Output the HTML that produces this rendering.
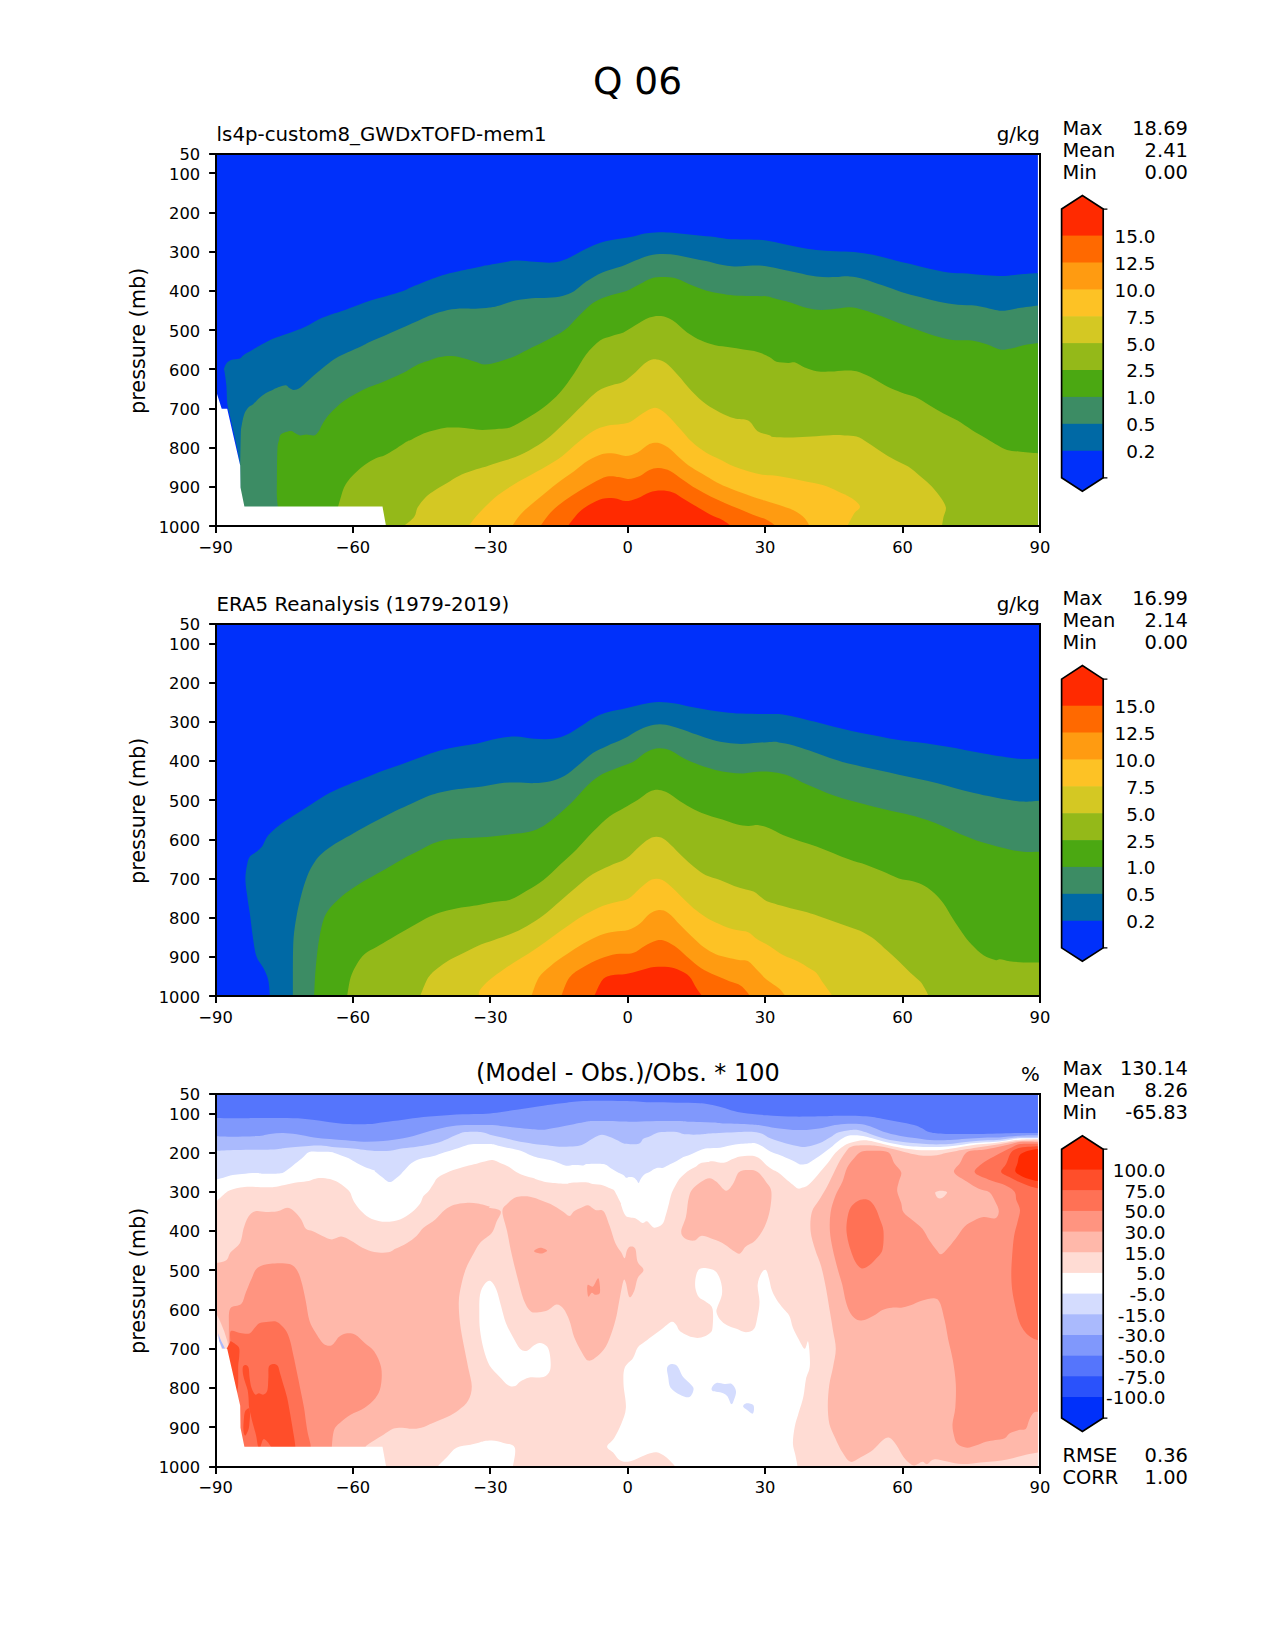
<!DOCTYPE html>
<html lang="en"><head><meta charset="utf-8"><title>Q 06</title>
<style>html,body{margin:0;padding:0;background:#fff}svg{display:block}</style></head>
<body>
<svg width="1275" height="1650" viewBox="0 0 1275 1650" font-family="'DejaVu Sans', 'Liberation Sans', sans-serif" fill="#000">
<rect width="1275" height="1650" fill="#fff"/>
<text x="637.5" y="94" font-size="37.5" text-anchor="middle">Q 06</text>
<clipPath id="c1"><rect x="215.6" y="153.8" width="822.3" height="372.6"/></clipPath>
<g clip-path="url(#c1)">
<rect x="215.6" y="153.8" width="824.3" height="372.6" fill="#0030fa"/>
<path d="M240.2 465.5C239.7 462.9 238.5 455.6 237.4 449.8C236.2 444 234.8 437 233.4 431C232.1 425 230.6 418.4 229.5 413.7C228.5 409 227.7 407.5 227.2 402.8C226.7 398 226.8 390.7 226.4 385.5C225.9 380.3 224.9 374.1 224.5 371.4C224.1 368.6 223.7 370.3 224 369C224.4 367.7 225.2 365 226.4 363.5C227.6 362 228.9 360.9 231.1 360.1C233.3 359.2 237.6 359.4 239.7 358.5C241.8 357.6 241.4 356.4 243.7 354.9C245.9 353.4 248.9 351.8 253.1 349.4C257.2 347.1 264.7 342.8 268.8 340.8C272.8 338.7 273.4 338.7 277.6 337.1C281.9 335.5 289.4 332.9 294.1 331.2C298.8 329.4 302 328.4 305.9 326.5C309.8 324.6 314.1 321.6 317.6 319.9C321.2 318.1 323.1 317.3 327.1 315.9C331 314.4 336.9 312.7 341.2 311.2C345.5 309.7 349 308.4 352.9 306.9C356.9 305.5 360.8 303.8 364.7 302.5C368.6 301.1 372.5 299.9 376.5 298.7C380.4 297.5 383.9 296.7 388.2 295.4C392.6 294.2 398.4 292.6 402.4 291.2C406.3 289.8 408.2 288.4 411.8 286.9C415.3 285.4 419.6 283.8 423.5 282.2C427.5 280.7 431 279.3 435.3 277.8C439.6 276.3 445.5 274.4 449.4 273.3C453.3 272.2 455.3 271.9 458.8 271.2C462.3 270.4 466.7 269.6 470.6 268.8C474.5 268 478.4 267 482.4 266.2C486.3 265.5 488.6 265.1 494.1 264.1C499.6 263.2 508.6 261 515.3 260.6C522 260.2 527.8 261.4 534.1 261.8C540.4 262.1 547.5 263 552.9 262.5C558.4 262 562.4 260.6 567.1 258.7C571.8 256.8 576.1 253.7 581.2 251.2C586.3 248.7 592.6 245.5 597.6 243.7C602.7 241.8 606.3 241.2 611.8 240.1C617.2 239 625.1 238.2 630.6 237.1C636.1 236 640 234.3 644.7 233.5C649.4 232.7 654.1 232.5 658.8 232.3C663.5 232.2 667.5 232.4 672.9 232.8C678.4 233.2 685.5 234.1 691.8 234.7C698 235.3 704.7 235.9 710.6 236.6C716.5 237.3 721.2 238.5 727.1 238.9C732.9 239.4 740 239.2 745.9 239.4C751.8 239.6 756.9 239.5 762.4 240.1C767.8 240.7 772.9 241.8 778.8 242.9C784.7 244.1 791.4 245.8 797.6 246.9C803.9 248.1 810.2 249.3 816.5 250C822.7 250.7 829 250.9 835.3 251.2C841.6 251.5 847.8 251.3 854.1 251.9C860.4 252.5 866.7 253.5 872.9 254.7C879.2 256 885.5 257.8 891.8 259.4C898 261 904.3 262.6 910.6 264.1C916.9 265.7 923.1 267.4 929.4 268.8C935.7 270.2 942 271.6 948.2 272.4C954.5 273.1 960.8 273.1 967.1 273.5C973.3 274 979.6 274.8 985.9 275.2C992.2 275.6 998.8 276 1004.7 275.9C1010.6 275.7 1015.4 274.8 1021.2 274.2C1027 273.7 1036.5 273.1 1039.5 272.8L1041.9 272.8L1041.9 528.4L240.2 528.4Z" fill="#0069a5"/>
<path d="M240.2 465.5C240.3 460.3 240.6 440.9 240.8 434.1C241.1 427.3 241.2 428.1 241.8 424.7C242.4 421.3 243.3 416.6 244.4 413.7C245.5 410.9 246.9 409 248.3 407.4C249.8 405.9 251.2 405.9 253.1 404.3C254.9 402.7 257.2 399.9 259.3 398C261.4 396.2 263.3 394.8 265.6 393.3C268 391.9 271.1 390.5 273.4 389.4C275.8 388.3 277.6 387.5 279.7 386.8C281.8 386 284.4 385 286 385.2C287.6 385.4 287.8 387.1 289.1 387.8C290.4 388.6 292 389.9 293.8 389.9C295.7 389.9 297.8 389.4 300.1 387.8C302.5 386.3 305.3 383.1 308 380.8C310.6 378.4 312.9 376.2 315.8 373.7C318.7 371.2 321.8 368.5 325.2 365.9C328.6 363.3 332.5 360.3 336.2 358C339.9 355.8 342.7 354.6 347.2 352.6C351.6 350.5 358.7 347.5 362.9 345.5C367 343.5 368 342.7 372.3 340.8C376.5 338.9 383.6 336 388.2 334C392.9 332 396.1 330.5 400 328.8C403.9 327.1 407.8 325.4 411.8 323.6C415.7 321.9 419.6 319.9 423.5 318.2C427.5 316.6 430.6 315 435.3 313.5C440 312 446.7 310.2 451.8 309.3C456.9 308.4 462 308.4 465.9 308.4C469.8 308.3 471.4 308.9 475.3 308.8C479.2 308.7 485.5 308.2 489.4 307.6C493.3 307.1 494.5 306.9 498.8 305.8C503.1 304.6 509.8 301.8 515.3 300.6C520.8 299.3 526.3 298.7 531.8 298.2C537.3 297.8 543.1 298.2 548.2 297.8C553.3 297.4 558 297 562.4 295.9C566.7 294.8 570.2 293.5 574.1 291.2C578 288.8 581.2 284.9 585.9 281.8C590.6 278.6 596.5 274.9 602.4 272.4C608.2 269.8 615.7 268.4 621.2 266.5C626.7 264.5 630.6 262.4 635.3 260.6C640 258.7 644.7 256.5 649.4 255.4C654.1 254.3 658.8 254 663.5 254C668.2 254 672.9 254.5 677.6 255.2C682.4 255.9 687.1 257.3 691.8 258.2C696.5 259.2 701.2 260 705.9 261.1C710.6 262.1 715.3 263.7 720 264.6C724.7 265.5 729.4 266.3 734.1 266.5C738.8 266.7 743.5 265.9 748.2 265.8C752.9 265.6 757.3 265.2 762.4 265.8C767.4 266.3 772.9 267.6 778.8 268.8C784.7 270 791.4 271.5 797.6 272.8C803.9 274.1 810.2 275.9 816.5 276.6C822.7 277.3 829.8 277.1 835.3 277.1C840.8 277 844.7 276 849.4 276.4C854.1 276.7 858 277.4 863.5 278.9C869 280.4 876.1 283.1 882.4 285.3C888.6 287.4 894.9 289.9 901.2 291.9C907.5 293.8 913.7 295.4 920 297.1C926.3 298.7 932.5 300.5 938.8 301.8C945.1 303.1 951.4 304.2 957.6 304.8C963.9 305.5 970.2 304.9 976.5 305.8C982.7 306.6 990.6 309.2 995.3 310C1000 310.8 1000.8 311 1004.7 310.7C1008.6 310.4 1013 309 1018.8 308.1C1024.6 307.2 1036.1 305.8 1039.5 305.3L1041.9 305.3L1041.9 528.4L240.2 528.4Z" fill="#3c8c64"/>
<path d="M277.8 506.6C277.7 505 277.1 501.1 276.9 496.9C276.7 492.6 276.8 489 276.9 481.2C277 473.3 277 456.6 277.4 449.8C277.7 443 278.3 443 278.9 440.4C279.6 437.8 279.3 435.7 281.3 434.1C283.3 432.6 288.4 431.1 290.7 431C293.1 430.8 293.8 432.6 295.4 433.3C297 434.1 298.3 435.2 300.1 435.4C301.9 435.6 304 434.6 306.4 434.6C308.7 434.6 312.1 436 314.2 435.4C316.3 434.8 317.6 432.8 318.9 431C320.2 429.2 320.5 427.3 322.1 424.7C323.6 422.1 325.7 418.4 328.4 415.3C331 412.2 334.6 408.6 337.8 405.9C340.9 403.1 344 400.9 347.2 398.8C350.3 396.7 352.9 395.3 356.6 393.3C360.2 391.4 365 388.9 369.1 387.1C373.3 385.2 377.5 384.1 381.7 382.4C385.9 380.7 390.2 378.7 394.2 376.9C398.3 375 401.9 373.5 406 371.4C410.1 369.2 414.7 366 418.8 364.1C422.9 362.2 427.1 361.1 430.6 359.9C434.1 358.7 436.5 357.7 440 357.1C443.5 356.4 447.8 355.9 451.8 356.1C455.7 356.3 459.6 357.3 463.5 358.2C467.5 359.2 471.8 360.7 475.3 361.8C478.8 362.8 480.8 364.6 484.7 364.6C488.6 364.6 493.7 363.2 498.8 361.8C503.9 360.3 509.8 358.2 515.3 355.9C520.8 353.5 526.3 350.4 531.8 347.6C537.3 344.9 542.7 342.4 548.2 339.4C553.7 336.5 559.6 333.9 564.7 330C569.8 326.1 574.1 320.4 578.8 315.9C583.5 311.4 588.2 306.2 592.9 302.9C597.6 299.7 601.6 298.3 607.1 296.4C612.5 294.4 620.4 293.2 625.9 291.2C631.4 289.1 635.7 286.3 640 284.1C644.3 282 647.4 279.4 651.8 278.2C656.1 277.1 661.6 276.9 665.9 277.1C670.2 277.2 673.3 277.6 677.6 278.9C682 280.3 687.1 283.4 691.8 285.3C696.5 287.2 701.2 289.1 705.9 290.5C710.6 291.8 715.3 292.7 720 293.5C724.7 294.4 729 295 734.1 295.4C739.2 295.8 745.1 295.7 750.6 295.9C756.1 296 763.1 296 767.1 296.4C771 296.7 770.2 297.2 774.1 298.2C778 299.3 785.1 300.8 790.6 302.5C796.1 304.1 802 306.9 807.1 308.1C812.2 309.4 816.5 309.9 821.2 310C825.9 310.1 830.6 309.3 835.3 308.8C840 308.4 844.7 307 849.4 307.2C854.1 307.4 858 308.4 863.5 310C869 311.6 876.1 314.2 882.4 316.6C888.6 318.9 894.9 321.8 901.2 324.1C907.5 326.5 913.7 328.6 920 330.7C926.3 332.9 933.3 335.5 938.8 337.1C944.3 338.6 947.5 339.5 952.9 340.1C958.4 340.7 966.3 339.9 971.8 340.6C977.2 341.3 981.2 342.6 985.9 344.1C990.6 345.6 996.1 348.7 1000 349.5C1003.9 350.3 1005.5 349.5 1009.4 348.8C1013.3 348.1 1018.5 346.3 1023.5 345.3C1028.5 344.3 1036.9 343.3 1039.5 342.9L1041.9 342.9L1041.9 528.4L277.8 528.4Z" fill="#4ba812"/>
<path d="M338.1 506.6C338.5 505 339.9 500.1 340.9 496.9C341.9 493.7 342.5 490.6 344 487.4C345.6 484.3 348 480.9 350.3 478C352.7 475.2 355.5 472.6 358.2 470.2C360.8 467.8 363.1 465.9 366 463.9C368.9 462 372.3 459.9 375.4 458.4C378.5 457 381.7 456.7 384.8 455.3C388 453.9 390.7 452 394.2 449.8C397.8 447.6 403.1 443.7 406 442C408.9 440.2 408.8 440.8 411.8 439.4C414.7 438 419.6 435.1 423.5 433.5C427.5 432 431.4 431 435.3 430C439.2 429 443.1 428 447.1 427.6C451 427.3 454.9 427.5 458.8 427.6C462.7 427.8 466.7 428.4 470.6 428.8C474.5 429.2 477.6 430 482.4 430C487.1 430 494.1 429.3 498.8 428.8C503.5 428.4 505.9 428.9 510.6 427.2C515.3 425.4 521.6 421.5 527.1 418.2C532.5 415 538 412 543.5 407.6C549 403.3 554.9 398 560 392.4C565.1 386.7 569.8 379.8 574.1 373.5C578.4 367.3 581.6 360.2 585.9 354.7C590.2 349.2 595.7 343.7 600 340.6C604.3 337.5 607.8 337.3 611.8 335.9C615.7 334.5 619.6 334.1 623.5 332.4C627.5 330.6 631 327.8 635.3 325.3C639.6 322.8 645.1 319.1 649.4 317.5C653.7 316 657.3 315.6 661.2 316.1C665.1 316.6 668.6 317.9 672.9 320.6C677.3 323.3 682.4 329 687.1 332.4C691.8 335.7 696.5 338.4 701.2 340.6C705.9 342.7 710.6 344.2 715.3 345.3C720 346.4 724.7 346.5 729.4 347.2C734.1 347.9 738.8 348.7 743.5 349.5C748.2 350.3 753.3 350.6 757.6 351.9C762 353.1 766.3 355.4 769.4 357.1C772.5 358.7 773.3 360.8 776.5 361.8C779.6 362.7 785.1 362.8 788.2 362.9C791.4 363.1 792.5 361.7 795.3 362.5C798 363.3 801.2 366.2 804.7 367.6C808.2 369.1 812.2 370.5 816.5 371.2C820.8 371.8 825.9 371.8 830.6 371.6C835.3 371.5 840.4 370.5 844.7 370.5C849 370.4 852.2 370.1 856.5 371.2C860.8 372.3 865.5 374.5 870.6 377.1C875.7 379.6 882 383.9 887.1 386.5C892.2 389 896.5 390.6 901.2 392.4C905.9 394.1 910.6 394.9 915.3 397.1C920 399.2 924.7 402.5 929.4 405.3C934.1 408 938.8 411 943.5 413.5C948.2 416.1 952.9 417.8 957.6 420.6C962.4 423.3 967.1 427.1 971.8 430C976.5 432.9 981.6 435.7 985.9 438.2C990.2 440.8 994.1 443.3 997.6 445.3C1001.2 447.2 1003.5 448.9 1007.1 450C1010.6 451.1 1013.4 451.1 1018.8 451.6C1024.2 452.2 1036.1 453.2 1039.5 453.5L1041.9 453.5L1041.9 528.4L338.1 528.4Z" fill="#94b919"/>
<path d="M403.5 526.4C405.3 524.8 411.8 520.2 414.1 517.1C416.5 513.9 415.7 511 417.6 507.6C419.6 504.3 422.9 500 425.9 497.1C428.8 494.1 431.8 492.4 435.3 490C438.8 487.6 443.1 485.3 447.1 482.9C451 480.6 454.9 477.8 458.8 475.9C462.7 473.9 466.7 472.6 470.6 471.2C474.5 469.8 478 469 482.4 467.6C486.7 466.3 491 464.7 496.5 462.9C502 461.2 509 459.6 515.3 457.1C521.6 454.5 528.2 451.2 534.1 447.6C540 444.1 545.1 440.4 550.6 435.9C556.1 431.4 562 425.5 567.1 420.6C572.2 415.7 576.1 411.4 581.2 406.5C586.3 401.6 592.6 394.7 597.6 391.2C602.7 387.6 607.4 386.9 611.8 385.3C616.1 383.7 619.6 383.9 623.5 381.8C627.5 379.6 631.4 375.7 635.3 372.4C639.2 369 643.5 363.9 647.1 361.8C650.6 359.6 653.3 359.2 656.5 359.4C659.6 359.6 662.4 360.4 665.9 362.9C669.4 365.5 673.3 370 677.6 374.7C682 379.4 687.1 386.3 691.8 391.2C696.5 396.1 701.2 400.6 705.9 404.1C710.6 407.6 715.3 410 720 412.4C724.7 414.7 729.4 416.9 734.1 418.2C738.8 419.6 744.3 418.4 748.2 420.6C752.2 422.7 754.1 428.7 757.6 431.2C761.2 433.6 766.7 434.2 769.4 435.2C772.2 436.2 770.2 436.7 774.1 437.1C778 437.5 786.7 437.6 792.9 437.5C799.2 437.5 805.5 437 811.8 436.6C818 436.2 825.1 435.4 830.6 435.2C836.1 435 840.4 435.2 844.7 435.4C849 435.6 852.5 435.3 856.5 436.6C860.4 437.8 863.9 440.3 868.2 442.9C872.6 445.6 878 449.6 882.4 452.4C886.7 455.1 889.8 457.1 894.1 459.4C898.4 461.8 903.9 463.7 908.2 466.5C912.6 469.2 916.1 472.5 920 475.9C923.9 479.2 928.2 482.7 931.8 486.5C935.3 490.2 938.8 494.7 941.2 498.2C943.5 501.8 945.5 504.5 945.9 507.6C946.3 510.8 944.2 513.9 943.5 517.1C942.9 520.2 942.2 524.8 941.9 526.4L941.9 528.4L403.5 528.4Z" fill="#d4c823"/>
<path d="M468.2 526.4C469.8 524.5 473.3 519.4 477.6 514.7C482 510 488.6 502.9 494.1 498.2C499.6 493.5 505.1 490 510.6 486.5C516.1 482.9 521.2 480.4 527.1 477.1C532.9 473.7 540 470 545.9 466.5C551.8 462.9 556.9 460 562.4 455.9C567.8 451.8 573.7 445.9 578.8 441.8C583.9 437.6 588.2 433.8 592.9 431.2C597.6 428.5 602.4 426.9 607.1 425.8C611.8 424.6 617.3 424.8 621.2 424.1C625.1 423.5 627.1 423.5 630.6 421.8C634.1 420 638.8 415.8 642.4 413.5C645.9 411.3 649 409.1 651.8 408.4C654.5 407.6 656.1 407.6 658.8 408.8C661.6 410.1 664.7 412.5 668.2 415.9C671.8 419.2 676.1 424.5 680 428.8C683.9 433.1 687.4 437.8 691.8 441.8C696.1 445.7 701.2 449.4 705.9 452.4C710.6 455.3 715.3 457.1 720 459.4C724.7 461.8 729.4 464.5 734.1 466.5C738.8 468.4 743.5 469.8 748.2 471.2C752.9 472.6 758 474 762.4 474.7C766.7 475.4 769.4 474.8 774.1 475.4C778.8 476 785.1 477.2 790.6 478.2C796.1 479.3 801.6 480.6 807.1 481.8C812.5 482.9 818.4 483.7 823.5 485.3C828.6 486.9 832.9 489 837.6 491.2C842.4 493.3 848 495.7 851.8 498.2C855.5 500.8 859.6 503.9 860 506.5C860.4 509 856.3 510.2 854.1 513.5C852 516.9 848.3 524.3 847.1 526.4L847.1 528.4L468.2 528.4Z" fill="#fdc225"/>
<path d="M511.8 526.4C513.6 524.1 517.8 517 522.4 512.4C526.9 507.7 532.9 503.1 538.8 498.2C544.7 493.3 551.8 487.4 557.6 482.9C563.5 478.4 569 474.9 574.1 471.2C579.2 467.5 583.5 463.5 588.2 460.6C592.9 457.7 598 455.2 602.4 454C606.7 452.8 610.2 453.2 614.1 453.5C618 453.8 622 456.1 625.9 455.9C629.8 455.7 633.7 454.3 637.6 452.4C641.6 450.4 645.9 445.7 649.4 444.1C652.9 442.6 655.7 442.4 658.8 442.9C662 443.5 664.7 445.1 668.2 447.6C671.8 450.2 676.1 454.9 680 458.2C683.9 461.6 687.4 464.7 691.8 467.6C696.1 470.6 701.2 473.1 705.9 475.9C710.6 478.6 715.3 481.8 720 484.1C724.7 486.5 729 488 734.1 490C739.2 492 745.5 494.1 750.6 495.9C755.7 497.6 759.2 498.8 764.7 500.6C770.2 502.4 778.4 504.7 783.5 506.5C788.6 508.2 791.8 509.2 795.3 511.2C798.8 513.1 802.3 515.7 804.7 518.2C807.1 520.8 809 525 809.9 526.4L809.9 528.4L511.8 528.4Z" fill="#ff9b11"/>
<path d="M540 526.4C541.8 524.1 546.5 516.7 550.6 512.4C554.7 508 560 504.1 564.7 500.6C569.4 497.1 574.1 494.1 578.8 491.2C583.5 488.2 588.2 485.4 592.9 482.9C597.6 480.5 602.7 477.6 607.1 476.6C611.4 475.6 615.3 476.7 618.8 477.1C622.4 477.5 624.7 479.1 628.2 478.9C631.8 478.7 636.5 477.4 640 475.9C643.5 474.4 646.3 471.3 649.4 470C652.5 468.7 655.3 467.9 658.8 468.1C662.4 468.3 666.7 469.3 670.6 471.2C674.5 473.1 678 476.5 682.4 479.4C686.7 482.4 691.8 486 696.5 488.8C701.2 491.6 705.9 494 710.6 496.4C715.3 498.7 720 500.9 724.7 502.9C729.4 505 734.1 506.9 738.8 508.8C743.5 510.8 748.2 512.9 752.9 514.7C757.6 516.6 763.1 517.9 767.1 519.9C771 521.8 774.9 525.3 776.5 526.4L776.5 528.4L540 528.4Z" fill="#ff6900"/>
<path d="M567.5 526.4C569.4 524.1 575 516.1 578.8 512.4C582.7 508.6 586.7 506.4 590.6 504.1C594.5 501.8 598.4 499.7 602.4 498.7C606.3 497.7 610.2 497.8 614.1 498.2C618 498.6 622 501.1 625.9 501.1C629.8 501.1 633.7 499.7 637.6 498.2C641.6 496.8 645.5 493.6 649.4 492.4C653.3 491.1 657.3 490.5 661.2 490.5C665.1 490.5 669 490.9 672.9 492.4C676.9 493.8 680.8 497.1 684.7 499.4C688.6 501.8 692.2 503.9 696.5 506.5C700.8 509 706.3 512.5 710.6 514.7C714.9 516.9 718.8 517.9 722.4 519.9C725.9 521.8 730.2 525.3 731.8 526.4L731.8 528.4L567.5 528.4Z" fill="#ff2a00"/>
<polygon points="215.6,389.4 221.7,408.7 227.2,408.7 240.2,465.5 240.5,487.5 244.4,506.6 382.5,506.6 386.1,526.4 215.6,526.4" fill="#fff"/>
</g>
<clipPath id="c2"><rect x="215.6" y="623.9" width="824.3" height="372.5"/></clipPath>
<g clip-path="url(#c2)">
<rect x="215.6" y="623.9" width="824.3" height="372.5" fill="#0030fa"/>
<path d="M269.9 996.4C269.6 993.7 269.3 984.7 268.2 980C267.2 975.3 265.5 972.2 263.5 968.2C261.6 964.3 258.2 961.6 256.5 956.5C254.7 951.4 254 944.7 252.9 937.6C251.8 930.6 250.9 921.2 249.9 914.1C248.9 907.1 247.8 901.2 247.1 895.3C246.3 889.4 245.4 883.9 245.4 878.8C245.4 873.7 246.3 868.4 247.1 864.7C247.8 861 248.3 858.6 249.9 856.5C251.4 854.3 254.4 853.5 256.5 851.8C258.5 850 260.4 848.6 262.4 845.9C264.3 843.1 265.3 838.8 268.2 835.3C271.2 831.8 275.7 828 280 824.7C284.3 821.4 289 818.6 294.1 815.3C299.2 812 304.7 808.4 310.6 804.7C316.5 801 323.1 796.3 329.4 792.9C335.7 789.6 342.4 787.2 348.2 784.7C354.1 782.2 358.8 780.5 364.7 778.1C370.6 775.8 377.3 772.9 383.5 770.6C389.8 768.2 396.1 766.3 402.4 764C408.6 761.7 414.9 759.2 421.2 756.9C427.5 754.7 433.7 752.3 440 750.6C446.3 748.9 452.5 747.8 458.8 746.6C465.1 745.4 471.4 744.8 477.6 743.5C483.9 742.2 490.2 740 496.5 738.8C502.7 737.6 509 736.5 515.3 736.5C521.6 736.5 527.8 738.4 534.1 738.8C540.4 739.2 547.5 739.5 552.9 738.8C558.4 738.1 562.4 736.7 567.1 734.6C571.8 732.4 576.5 728.8 581.2 725.9C585.9 722.9 590.6 719.3 595.3 716.9C600 714.6 604.3 713.2 609.4 711.8C614.5 710.3 620.4 709.5 625.9 708.2C631.4 707 636.9 705.3 642.4 704.2C647.8 703.2 653.3 702 658.8 701.9C664.3 701.8 669.8 702.7 675.3 703.5C680.8 704.4 686.3 706 691.8 707.1C697.3 708.1 702.7 709 708.2 709.9C713.7 710.7 719.2 711.6 724.7 712.2C730.2 712.9 734.9 713.3 741.2 713.6C747.5 714 756.1 714 762.4 714.1C768.6 714.2 773.3 713.6 778.8 714.1C784.3 714.6 789.4 715.7 795.3 716.9C801.2 718.2 807.8 720.1 814.1 721.6C820.4 723.2 826.7 724.8 832.9 726.4C839.2 727.9 845.5 729.6 851.8 731.1C858 732.5 864.3 733.6 870.6 734.8C876.9 736 883.1 737.3 889.4 738.4C895.7 739.4 902 740.3 908.2 741.2C914.5 742 920.8 742.6 927.1 743.5C933.3 744.4 939.6 745.5 945.9 746.6C952.2 747.6 958.4 748.7 964.7 749.9C971 751 977.3 752.3 983.5 753.4C989.8 754.5 996.5 755.6 1002.4 756.5C1008.2 757.4 1012.6 758.4 1018.8 758.8C1025 759.2 1036.1 758.8 1039.5 758.8L1041.9 758.8L1041.9 998.4L269.9 998.4Z" fill="#0069a5"/>
<path d="M292.9 996.4C292.9 990.5 292.8 971 292.9 961.2C293.1 951.4 293.1 945.1 293.6 937.6C294.2 930.2 295.2 923.5 296.5 916.5C297.7 909.4 299.4 902 301.2 895.3C302.9 888.6 305.1 881.6 307.1 876.5C309 871.4 310.8 868.2 312.9 864.7C315.1 861.2 316.9 858.4 320 855.3C323.1 852.2 327.4 848.8 331.8 845.9C336.1 842.9 340.8 840.6 345.9 837.6C351 834.7 356.9 831.3 362.4 828.2C367.8 825.2 373.3 822.4 378.8 819.5C384.3 816.7 389.8 813.7 395.3 811.1C400.8 808.4 406.7 805.9 411.8 803.5C416.9 801.2 421.6 798.7 425.9 796.9C430.2 795.2 433.3 794.1 437.6 792.9C442 791.8 447.1 790.7 451.8 789.9C456.5 789.1 460.8 788.8 465.9 788.2C471 787.7 476.9 787.4 482.4 786.6C487.8 785.8 493.3 784.2 498.8 783.5C504.3 782.8 509.4 782.4 515.3 782.4C521.2 782.3 528.2 783.3 534.1 783.1C540 782.9 545.5 782.4 550.6 781.2C555.7 780 560 778.5 564.7 775.8C569.4 773 574.1 768.5 578.8 764.7C583.5 760.9 588.2 756.1 592.9 752.9C597.6 749.8 602 748.2 607.1 745.9C612.2 743.5 618 741.6 623.5 738.8C629 736.1 634.9 731.8 640 729.4C645.1 727.1 649.8 725.5 654.1 724.7C658.4 723.9 661.6 724 665.9 724.7C670.2 725.4 674.9 727.1 680 728.7C685.1 730.4 691 732.7 696.5 734.6C702 736.5 707.8 738.6 712.9 740C718 741.4 722.4 742.2 727.1 742.8C731.8 743.5 736.1 744 741.2 744C746.3 744 752.6 743.2 757.6 742.8C762.7 742.5 768.2 742 771.8 741.9C775.3 741.8 775.3 741.8 778.8 742.4C782.4 742.9 787.8 743.8 792.9 745.2C798 746.6 803.9 748.7 809.4 750.6C814.9 752.5 820.4 754.6 825.9 756.5C831.4 758.4 836.5 760.2 842.4 761.9C848.2 763.5 854.9 764.9 861.2 766.4C867.5 767.8 873.7 769.2 880 770.6C886.3 772 892.5 773.4 898.8 774.8C905.1 776.2 911.4 777.4 917.6 778.8C923.9 780.2 930.2 781.5 936.5 783.1C942.7 784.6 949 786.6 955.3 788.2C961.6 789.9 967.8 791.5 974.1 792.9C980.4 794.4 987.1 795.8 992.9 796.9C998.8 798.1 1004.3 799.2 1009.4 800C1014.5 800.8 1018.5 801.5 1023.5 801.6C1028.5 801.8 1036.9 800.9 1039.5 800.7L1041.9 800.7L1041.9 998.4L292.9 998.4Z" fill="#3c8c64"/>
<path d="M314.1 996.4C314.3 992.5 314.7 980.8 315.3 972.9C315.9 965.1 316.7 956.9 317.6 949.4C318.6 942 319.8 934.1 321.2 928.2C322.6 922.4 323.7 918.2 325.9 914.1C328 910 330.8 907.1 334.1 903.5C337.5 900 341.6 896.3 345.9 892.9C350.2 889.6 354.9 886.7 360 883.5C365.1 880.4 371 877.3 376.5 874.1C382 871 387.8 867.7 392.9 864.7C398 861.8 402.4 859 407.1 856.5C411.8 853.9 416.9 851.6 421.2 849.4C425.5 847.3 429 845.1 432.9 843.5C436.9 842 440.4 840.9 444.7 840C449 839.1 453.3 838.7 458.8 838.4C464.3 838 471.4 838 477.6 837.6C483.9 837.3 490.6 836.6 496.5 836C502.4 835.4 507.5 834.8 512.9 834.1C518.4 833.4 524.3 833.1 529.4 831.8C534.5 830.4 538.8 828.6 543.5 825.9C548.2 823.1 552.6 819.6 557.6 815.3C562.7 811 569 805.1 574.1 800C579.2 794.9 583.5 789 588.2 784.7C592.9 780.4 597.6 776.9 602.4 774.1C607.1 771.4 611.4 770.3 616.5 768.2C621.6 766.2 627.8 764.6 632.9 761.9C638 759.1 642.7 754 647.1 751.8C651.4 749.5 654.9 748.4 658.8 748.2C662.7 748 666.3 748.8 670.6 750.6C674.9 752.4 680 756.5 684.7 758.8C689.4 761.2 693.7 762.9 698.8 764.7C703.9 766.6 710.2 768.6 715.3 769.9C720.4 771.2 724.7 771.9 729.4 772.5C734.1 773.1 738.8 773.5 743.5 773.4C748.2 773.3 753.3 772 757.6 771.8C762 771.5 764.7 771.2 769.4 771.8C774.1 772.3 780.4 773.1 785.9 774.8C791.4 776.6 796.9 779.9 802.4 782.4C807.8 784.8 813.3 787.1 818.8 789.4C824.3 791.7 829.4 794 835.3 796C841.2 798 847.8 799.9 854.1 801.6C860.4 803.4 866.7 805 872.9 806.6C879.2 808.2 885.5 809.6 891.8 811.1C898 812.5 904.7 813.8 910.6 815.3C916.5 816.8 921.6 818.1 927.1 820C932.5 821.9 938 824.2 943.5 826.6C949 828.9 954.5 831.8 960 834.1C965.5 836.4 971 838.6 976.5 840.5C982 842.3 987.5 843.7 992.9 845.2C998.4 846.7 1004.3 848.3 1009.4 849.4C1014.5 850.5 1018.5 851.4 1023.5 851.8C1028.5 852.2 1036.9 851.8 1039.5 851.8L1041.9 851.8L1041.9 998.4L314.1 998.4Z" fill="#4ba812"/>
<path d="M347.1 996.4C347.7 993.3 349 982.9 350.6 977.6C352.2 972.4 354.1 968.6 356.5 964.7C358.8 960.8 361.4 957.1 364.7 954.1C368 951.2 372.2 949.6 376.5 947.1C380.8 944.5 385.9 941.6 390.6 938.8C395.3 936.1 400 933.3 404.7 930.6C409.4 927.8 414.1 924.9 418.8 922.4C423.5 919.8 428.2 917.2 432.9 915.3C437.6 913.3 442.4 911.9 447.1 910.6C451.8 909.3 456.1 908.4 461.2 907.5C466.3 906.6 472.2 906.1 477.6 905.2C483.1 904.2 488.6 902.8 494.1 901.9C499.6 900.9 505.1 901.4 510.6 899.5C516.1 897.6 521.6 893.8 527.1 890.6C532.5 887.3 538 884.3 543.5 880C549 875.7 554.5 869.8 560 864.7C565.5 859.6 571 854.9 576.5 849.4C582 843.9 587.5 837.2 592.9 831.8C598.4 826.3 604.3 820.4 609.4 816.5C614.5 812.6 618.8 811 623.5 808.2C628.2 805.5 633.3 802.7 637.6 800C642 797.3 645.9 793.4 649.4 791.8C652.9 790.1 655.7 789.7 658.8 789.9C662 790.1 664.7 791.1 668.2 792.9C671.8 794.8 675.7 798.4 680 801.2C684.3 803.9 689.4 807.1 694.1 809.4C698.8 811.8 703.5 813.6 708.2 815.3C712.9 817 717.6 818 722.4 819.5C727.1 821 732.2 823.2 736.5 824.2C740.8 825.3 744.5 825.7 748.2 825.9C752 826 755.3 824.8 758.8 825.2C762.3 825.6 765.3 826.6 769.4 828.2C773.5 829.9 778.4 833.1 783.5 835.3C788.6 837.4 794.5 839.3 800 841.2C805.5 843 811 844.4 816.5 846.4C822 848.3 827.5 850.7 832.9 852.9C838.4 855.1 843.9 857.6 849.4 859.5C854.9 861.5 860.4 862.8 865.9 864.7C871.4 866.7 876.9 869 882.4 871.3C887.8 873.6 893.7 876.7 898.8 878.4C903.9 880 908.6 879.9 912.9 881.2C917.3 882.4 921.2 883.9 924.7 885.9C928.2 887.8 931 890 934.1 892.9C937.3 895.9 940.4 899.2 943.5 903.5C946.7 907.8 949.8 913.9 952.9 918.8C956.1 923.7 959.2 928.6 962.4 932.9C965.5 937.3 968.2 941 971.8 944.7C975.3 948.4 979.6 952.7 983.5 955.3C987.5 957.8 992.5 959.3 995.3 960C998 960.7 997.6 959.1 1000 959.3C1002.4 959.5 1005.5 960.7 1009.4 961.2C1013.3 961.7 1018.5 962.2 1023.5 962.4C1028.5 962.5 1036.9 962.4 1039.5 962.4L1041.9 962.4L1041.9 998.4L347.1 998.4Z" fill="#94b919"/>
<path d="M420 996.4C421.4 993.3 425.3 982.3 428.2 977.6C431.2 973 434.1 971.2 437.6 968.2C441.2 965.3 445.1 962.5 449.4 960C453.7 957.5 458.8 955.3 463.5 952.9C468.2 950.6 472.6 948 477.6 945.9C482.7 943.7 488.6 942 494.1 940C499.6 938 505.1 936.5 510.6 934.1C516.1 931.8 521.6 929 527.1 925.9C532.5 922.7 538 919.4 543.5 915.3C549 911.2 554.5 905.9 560 901.2C565.5 896.5 571 891.6 576.5 887.1C582 882.5 587.5 877.6 592.9 874.1C598.4 870.6 603.9 868.4 609.4 865.9C614.9 863.3 620.8 862.2 625.9 858.8C631 855.5 635.7 849.4 640 845.9C644.3 842.4 648.2 839 651.8 837.6C655.3 836.3 658 836.5 661.2 837.6C664.3 838.8 667.1 841.6 670.6 844.7C674.1 847.8 678.4 852.7 682.4 856.5C686.3 860.2 690.2 863.9 694.1 867.1C698 870.2 701.6 873.1 705.9 875.3C710.2 877.4 715.3 878.2 720 880C724.7 881.8 729.8 884.3 734.1 885.9C738.4 887.4 742.5 888.4 745.9 889.4C749.2 890.4 751 890 754.1 891.8C757.3 893.5 761.4 898 764.7 900C768 902 769.8 902.2 774.1 903.5C778.4 904.9 785.1 906.8 790.6 908.2C796.1 909.7 802 910.8 807.1 912.2C812.2 913.7 816.5 915.3 821.2 916.9C825.9 918.5 830.6 920.2 835.3 921.9C840 923.6 844.7 925.3 849.4 927.1C854.1 928.8 859.2 930.3 863.5 932.5C867.8 934.6 871.4 937 875.3 940C879.2 943 883.1 947.1 887.1 950.6C891 954.1 894.9 957.5 898.8 961.2C902.7 964.9 907.1 969.6 910.6 972.9C914.1 976.3 917.6 978.6 920 981.2C922.4 983.7 923.2 985.7 924.7 988.2C926.2 990.8 928.2 995 928.9 996.4L928.9 998.4L420 998.4Z" fill="#d4c823"/>
<path d="M478.8 996.4C479 995.3 478.2 992.6 480 989.9C481.8 987.1 485.5 983.4 489.4 980C493.3 976.6 498.4 972.9 503.5 969.4C508.6 965.9 514.5 962.3 520 958.8C525.5 955.3 531 952 536.5 948.2C542 944.5 547.5 940.4 552.9 936.5C558.4 932.5 563.9 928.4 569.4 924.7C574.9 921 580.4 917.3 585.9 914.1C591.4 911 597.3 907.9 602.4 905.9C607.4 903.8 612.2 903.1 616.5 901.9C620.8 900.7 624.3 901.1 628.2 898.8C632.2 896.5 636.1 891.5 640 888.2C643.9 885 648 880.9 651.8 879.5C655.5 878.2 658.8 878.5 662.4 880C665.9 881.5 669.2 884.9 672.9 888.2C676.7 891.6 680.8 896.3 684.7 900C688.6 903.7 692.5 907.5 696.5 910.6C700.4 913.7 703.9 916.4 708.2 918.8C712.6 921.3 717.6 923.5 722.4 925.4C727.1 927.3 732.2 929 736.5 930.1C740.8 931.3 744.7 930.7 748.2 932.2C751.8 933.8 754.1 937.3 757.6 939.5C761.2 941.8 765.1 943.3 769.4 945.9C773.7 948.5 778.8 952.7 783.5 955.3C788.2 957.8 793.3 959 797.6 961.2C802 963.3 806.3 966.3 809.4 968.2C812.5 970.2 814.1 970.4 816.5 972.9C818.8 975.5 820.8 979.6 823.5 983.5C826.3 987.4 831.3 994.3 832.9 996.4L832.9 998.4L478.8 998.4Z" fill="#fdc225"/>
<path d="M531.3 996.4C532.6 993.3 535.6 982.7 538.8 977.6C542 972.6 545.9 969.8 550.6 965.9C555.3 962 561.6 957.8 567.1 954.1C572.5 950.4 578 946.7 583.5 943.5C589 940.4 594.9 937.3 600 935.3C605.1 933.3 609.4 932.6 614.1 931.8C618.8 930.9 623.9 931.5 628.2 930.1C632.6 928.7 636.5 926.2 640 923.5C643.5 920.9 646.3 916.4 649.4 914.1C652.5 911.9 655.7 910.3 658.8 910.1C662 909.9 664.7 910.5 668.2 912.9C671.8 915.4 676.1 920.8 680 924.7C683.9 928.6 687.8 932.7 691.8 936.5C695.7 940.2 699.6 944.1 703.5 947.1C707.5 950 711.4 952.4 715.3 954.1C719.2 955.9 723.1 956.7 727.1 957.6C731 958.6 735.3 959.4 738.8 960C742.4 960.6 745.1 959.4 748.2 961.2C751.4 962.9 754.5 967.5 757.6 970.6C760.8 973.7 763.5 977.1 767.1 980C770.6 982.9 775.7 985.5 778.8 988.2C782 991 784.7 995 785.9 996.4L785.9 998.4L531.3 998.4Z" fill="#ff9b11"/>
<path d="M561.2 996.4C562.6 993.3 565.7 982.5 569.4 977.6C573.1 972.8 578.4 970.2 583.5 967.1C588.6 963.9 594.5 961 600 958.8C605.5 956.7 611 955.1 616.5 954.1C622 953.1 628.2 954.3 632.9 952.9C637.6 951.6 640.8 948 644.7 945.9C648.6 943.8 652.9 941.3 656.5 940.5C660 939.7 662.4 939.9 665.9 941.2C669.4 942.5 673.7 945.3 677.6 948.2C681.6 951.2 685.5 955.5 689.4 958.8C693.3 962.2 696.9 965.5 701.2 968.2C705.5 971 710.6 973.1 715.3 975.3C720 977.4 725.1 979.4 729.4 981.2C733.7 982.9 737.6 983.3 741.2 985.9C744.7 988.4 749 994.6 750.6 996.4L750.6 998.4L561.2 998.4Z" fill="#ff6900"/>
<path d="M594.1 996.4C595.5 993.7 599.4 983.5 602.4 980C605.3 976.5 607.8 976.3 611.8 975.3C615.7 974.3 621.2 974.9 625.9 974.1C630.6 973.3 635.3 971.8 640 970.6C644.7 969.4 649.4 967.6 654.1 967.1C658.8 966.5 663.9 966.5 668.2 967.1C672.6 967.6 676.5 969 680 970.6C683.5 972.2 686.7 973.5 689.4 976.5C692.2 979.4 694.3 984.9 696.5 988.2C698.6 991.6 701.4 995 702.4 996.4L702.4 998.4L594.1 998.4Z" fill="#ff2a00"/>
</g>
<clipPath id="c3"><rect x="215.6" y="1094" width="822.3" height="372.5"/></clipPath>
<g clip-path="url(#c3)">
<path d="M216 1201.7C217.2 1200.6 221 1196.9 223.3 1195C225.7 1193.1 226.4 1191.7 230 1190.3C233.6 1189 238.7 1187.5 244.7 1187C250.7 1186.5 261.1 1187.3 266 1187.3C270.9 1187.3 270.9 1187.4 274 1187C277.1 1186.6 280.7 1185.8 284.7 1185C288.7 1184.2 294 1183 298 1182.3C302 1181.7 306 1181.6 308.7 1181C311.3 1180.4 312 1179.5 314 1179C316 1178.5 318 1177.9 320.7 1177.9C323.3 1177.9 327.1 1178.3 330 1179C332.9 1179.7 335.6 1181 338 1182.3C340.4 1183.7 342.7 1185.3 344.7 1187C346.7 1188.7 348.7 1190.3 350 1192.3C351.3 1194.3 351.8 1197.1 352.7 1199C353.6 1200.9 353.7 1201.4 355.3 1203.7C356.9 1205.9 359.6 1209.8 362.4 1212.3C365.1 1214.9 367.8 1217.4 371.8 1218.9C375.7 1220.5 381.2 1221.7 385.9 1221.8C390.6 1221.8 395.7 1221 400 1219.4C404.3 1217.8 408.4 1215 411.8 1212.3C415.1 1209.7 418.1 1206.3 420 1203.7C421.9 1201 421.9 1198.4 423.3 1196.3C424.8 1194.2 426.9 1193.2 428.7 1191C430.4 1188.8 432.4 1185.3 434 1183C435.6 1180.7 435.3 1179.4 438 1177.4C440.7 1175.4 445.8 1173 450 1171.3C454.2 1169.5 459.3 1168.2 463.3 1167C467.3 1165.8 470.4 1165.3 474 1164.3C477.6 1163.4 481.6 1162.1 484.7 1161.4C487.8 1160.7 490 1159.8 492.7 1160.1C495.3 1160.4 498 1162.2 500.7 1163.3C503.3 1164.4 506 1165.2 508.7 1166.7C511.3 1168.2 514 1170.8 516.7 1172.3C519.3 1173.8 521.8 1174.7 524.7 1175.7C527.6 1176.7 532.2 1177.8 534 1178.3C535.8 1178.9 533.8 1178.5 535.3 1179C536.9 1179.5 540.7 1180.8 543.3 1181.4C546 1182 547.6 1182.4 551.3 1182.7C555.1 1183.1 562.7 1183.7 566 1183.7C569.3 1183.7 568 1183 571.3 1182.7C574.7 1182.5 582.4 1182.1 586 1182.3C589.6 1182.6 589.8 1183.6 592.7 1184.1C595.6 1184.6 600.4 1184.7 603.3 1185.4C606.2 1186.1 608.2 1187.5 610 1188.3C611.8 1189.2 612.9 1189.2 614 1190.3C615.1 1191.4 615.8 1193.3 616.7 1195C617.6 1196.7 618.6 1198.9 619.3 1200.3C620.1 1201.8 620.8 1202.8 621.1 1203.7C621.4 1204.5 620.4 1203.3 621.2 1205.3C622 1207.3 623.5 1213.7 625.9 1215.9C628.2 1218 632.5 1217.1 635.3 1218.2C638 1219.4 640.4 1222.4 642.4 1222.9C644.3 1223.4 645.1 1220.5 647.1 1221.3C649 1222.1 651.6 1227.2 654.1 1227.7C656.7 1228.1 660.4 1226.3 662.4 1224.1C664.3 1222 664.8 1218.1 665.9 1214.7C667 1211.3 668.2 1206.3 668.9 1203.7C669.6 1201.1 669.5 1200.9 670 1199C670.5 1197.1 671.1 1194.6 672 1192.3C672.9 1190.1 674.1 1187.9 675.3 1185.7C676.6 1183.4 677.8 1181 679.3 1179C680.9 1177 682.9 1175.2 684.7 1173.7C686.4 1172.1 688.2 1170.8 690 1169.7C691.8 1168.6 693.7 1168 695.3 1167C697 1166 698 1164.2 700 1163.4C702 1162.6 705.4 1162.5 707.5 1162.1C709.6 1161.8 709.8 1161.1 712.5 1161.2C715.3 1161.4 720.7 1163 723.8 1162.8C727 1162.5 728.7 1160.7 731.4 1159.6C734.1 1158.6 736.6 1157.1 740.1 1156.5C743.7 1155.9 749.4 1155.4 752.7 1155.8C756 1156.3 757.9 1157.4 760.2 1159C762.5 1160.6 764.4 1163.5 766.5 1165.3C768.6 1167 770.9 1168.5 772.8 1169.7C774.7 1170.8 775.7 1170.7 777.8 1172.2C779.9 1173.6 782.8 1176.3 785.3 1178.4C787.8 1180.5 790.8 1183 792.9 1184.7C794.9 1186.4 796.2 1188 797.9 1188.5C799.5 1189 801.2 1188.1 802.9 1187.6C804.6 1187.1 806 1186.8 807.9 1185.3C809.8 1183.9 812.1 1181.4 814.2 1179.1C816.3 1176.8 818.2 1174.3 820.5 1171.5C822.8 1168.8 825.5 1165.9 828 1162.8C830.5 1159.6 833 1155.4 835.5 1152.7C838 1150 840.5 1148.1 843 1146.4C845.5 1144.8 847.2 1143.7 850.6 1142.7C853.9 1141.7 859.4 1140.5 863.3 1140.3C867.2 1140.2 870 1140.9 874 1141.7C878 1142.4 882.9 1144 887.3 1145C891.8 1146 895.8 1146.8 900.7 1147.7C905.6 1148.5 911.8 1149.5 916.7 1149.9C921.6 1150.4 925.6 1150.4 930 1150.3C934.4 1150.3 938.9 1150.1 943.3 1149.7C947.8 1149.2 952.2 1148.4 956.7 1147.7C961.1 1147 965.6 1146 970 1145.4C974.4 1144.8 978.9 1144.5 983.3 1144.1C987.8 1143.6 992.2 1143.2 996.7 1142.7C1001.1 1142.2 1006.1 1141.5 1010 1141C1013.9 1140.5 1014.9 1140 1020 1139.7C1025.1 1139.3 1037.1 1139.1 1040.5 1139L1041.9 1139L1041.9 1468.5L213.6 1468.5L213.6 1201.7Z" fill="#ffdcd4"/>
<path d="M480 1294.7C480.9 1289.8 482.9 1286.4 484.7 1284.1C486.5 1281.8 488.6 1280.1 490.6 1281.1C492.5 1282 494.7 1285.8 496.5 1290C498.2 1294.2 499.6 1301 501.2 1306.5C502.7 1312 503.9 1317.8 505.9 1322.9C507.8 1328 510.6 1332.7 512.9 1337.1C515.3 1341.4 517.6 1346.5 520 1348.8C522.4 1351.1 524.7 1351.3 527.1 1350.7C529.4 1350.1 532 1346.6 534.1 1345.3C536.3 1344 537.8 1342.7 540 1342.9C542.2 1343.1 545.4 1344.3 547.1 1346.5C548.7 1348.6 549.6 1352 550.1 1355.9C550.6 1359.8 551.2 1366.5 550.1 1370C549 1373.5 547 1375.8 543.5 1377.1C540.1 1378.3 533.3 1376.7 529.4 1377.5C525.5 1378.3 522.4 1380.3 520 1381.8C517.6 1383.2 517.2 1385.4 515.3 1386C513.3 1386.6 511 1387 508.2 1385.3C505.5 1383.6 502 1379.2 498.8 1375.9C495.7 1372.5 492 1369.8 489.4 1365.3C486.9 1360.8 485.1 1354.7 483.5 1348.8C482 1342.9 480.7 1335.9 480 1330C479.3 1324.1 479.3 1319.4 479.3 1313.5C479.3 1307.6 479.1 1299.6 480 1294.7Z" fill="#fff"/>
<path d="M675.3 1466.5C673.7 1464.9 669 1459.4 665.9 1457.1C662.7 1454.7 659.6 1452.8 656.5 1452.3C653.3 1451.9 650.6 1453.1 647.1 1454.2C643.5 1455.4 638.8 1458.2 635.3 1459.4C631.8 1460.7 628.6 1461.8 625.9 1461.8C623.1 1461.8 621 1461 618.8 1459.4C616.7 1457.8 614.9 1454.5 612.9 1452.3C611 1450.2 606.9 1448.8 607.1 1446.5C607.3 1444.1 611.8 1442 614.1 1438.2C616.5 1434.5 619.2 1429.2 621.2 1424.1C623.1 1419 625.5 1414.3 625.9 1407.7C626.3 1401 623.7 1390.8 623.5 1384.1C623.3 1377.5 623.1 1372 624.7 1367.7C626.3 1363.3 630.8 1361.6 632.9 1358.2C635.1 1354.9 635.7 1350.4 637.6 1347.7C639.6 1344.9 642 1343.9 644.7 1341.8C647.5 1339.6 651 1337.1 654.1 1334.7C657.3 1332.4 660.6 1329.8 663.5 1327.7C666.5 1325.5 669.6 1322.2 671.8 1321.8C673.9 1321.4 675.1 1323.7 676.5 1325.3C677.8 1326.9 677.5 1329.2 680 1331.2C682.5 1333.1 688.2 1336 691.8 1337.1C695.3 1338.1 698.2 1338.1 701.2 1337.5C704.1 1336.9 707.5 1335.2 709.4 1333.5C711.3 1331.9 712 1331.8 712.5 1327.7C713 1323.5 713.6 1313.1 712.5 1308.8C711.4 1304.5 708.2 1303.7 705.9 1301.8C703.6 1299.8 700.6 1299.4 698.8 1297.1C697.1 1294.7 695.8 1291.2 695.3 1287.7C694.8 1284.1 695.2 1279 696 1275.9C696.8 1272.7 697.8 1270 700 1268.8C702.2 1267.6 706.7 1268.2 709.4 1268.8C712.2 1269.4 714.5 1270 716.5 1272.3C718.4 1274.7 720.3 1279.2 721.2 1282.9C722.1 1286.7 722.5 1290.8 721.9 1294.7C721.3 1298.6 718.6 1303.5 717.6 1306.5C716.7 1309.4 716.1 1310.2 716.5 1312.3C716.9 1314.5 718.2 1317.3 720 1319.4C721.8 1321.6 724.3 1323.7 727.1 1325.3C729.8 1326.9 733.3 1327.6 736.5 1328.8C739.6 1330 742.9 1332.3 745.9 1332.3C748.8 1332.3 752.2 1331.6 754.1 1328.8C756.1 1326.1 756.7 1320.4 757.6 1315.9C758.6 1311.4 759.5 1306.9 759.5 1301.8C759.5 1296.7 757.4 1290 757.6 1285.3C757.9 1280.6 759.8 1276.1 761.2 1273.5C762.6 1271 764.6 1269.2 765.9 1270C767.2 1270.8 768 1274.9 768.9 1278.2C769.9 1281.6 770.5 1286.5 771.8 1290C773 1293.5 774.5 1296.3 776.5 1299.4C778.4 1302.5 781.4 1306.1 783.5 1308.8C785.7 1311.6 787.8 1312.7 789.4 1315.9C791 1319 791.4 1323.7 792.9 1327.7C794.5 1331.6 796.9 1335.9 798.8 1339.4C800.8 1342.9 803.1 1348.4 804.7 1348.8C806.3 1349.2 807.4 1339 808.2 1341.8C809.1 1344.5 810.3 1359 809.9 1365.3C809.5 1371.6 806.9 1374.3 805.9 1379.4C804.8 1384.5 804.7 1390.4 803.5 1395.9C802.4 1401.4 800.3 1407.3 798.8 1412.3C797.4 1417.4 795.8 1421.4 794.8 1426.5C793.8 1431.6 792.9 1438.2 792.9 1442.9C793 1447.6 794.5 1450.8 795.3 1454.7C796.1 1458.6 797.3 1464.5 797.6 1466.5Z" fill="#fff"/>
<path d="M437.6 1466.5C439.2 1464.9 443.9 1460.2 447.1 1457.1C450.2 1453.9 452.5 1449.7 456.5 1447.7C460.4 1445.6 465.9 1445.9 470.6 1444.8C475.3 1443.7 483.1 1441.6 484.7 1441.1C486.3 1440.5 478.8 1441.8 480 1441.8C481.2 1441.7 487.8 1440.4 491.8 1440.6C495.7 1440.8 499.7 1441.8 503.5 1442.9C507.4 1444.1 513.3 1443.7 514.8 1447.7C516.4 1451.6 513.3 1463.3 512.9 1466.5Z" fill="#fff"/>
<path d="M667.1 1367.7C667.6 1365.5 670 1364.3 671.8 1364.1C673.5 1363.9 675.9 1364.5 677.6 1366.5C679.4 1368.4 680.4 1373.1 682.4 1375.9C684.3 1378.6 687.5 1380.8 689.4 1382.9C691.3 1385.1 693.6 1386.5 693.6 1388.8C693.6 1391.2 691.7 1396.1 689.4 1397.1C687.1 1398 683.1 1396.3 680 1394.7C676.9 1393.1 672.6 1390.6 670.6 1387.7C668.6 1384.7 668.8 1380.4 668.2 1377.1C667.7 1373.7 666.5 1369.8 667.1 1367.7Z" fill="#d4dcfe"/>
<path d="M711.8 1387.7C712.3 1386.3 714.3 1383.5 716.5 1382.9C718.6 1382.4 722.2 1383.9 724.7 1384.1C727.3 1384.3 729.9 1382.9 731.8 1384.1C733.6 1385.3 735.6 1388.6 736 1391.2C736.4 1393.7 734.9 1397.3 734.1 1399.4C733.3 1401.6 732.5 1404.7 731.3 1404.1C730.1 1403.5 728.9 1397.8 727.1 1395.9C725.2 1393.9 722.4 1393.1 720 1392.3C717.6 1391.6 714.3 1392 712.9 1391.2C711.6 1390.4 711.2 1389 711.8 1387.7Z" fill="#d4dcfe"/>
<path d="M743.1 1406.5C742.9 1405.4 744.2 1403.6 745.9 1403.4C747.6 1403.2 752.2 1403.6 753.4 1405.3C754.6 1407 754 1412.7 752.9 1413.5C751.9 1414.3 748.7 1411.2 747.1 1410C745.4 1408.8 743.3 1407.6 743.1 1406.5Z" fill="#d4dcfe"/>
<path d="M212.6 1263.6C214.8 1263.1 222.9 1262.5 225.9 1260.6C228.9 1258.7 228.2 1255.3 230.6 1252.3C232.9 1249.4 237.8 1246.9 240 1242.9C242.2 1239 242.2 1233.1 243.5 1228.8C244.9 1224.5 246.3 1220 248.2 1217.1C250.2 1214.1 252.3 1212 255.3 1211.2C258.2 1210.3 262.2 1211.9 265.9 1211.9C269.6 1211.9 274.1 1211.9 277.6 1211.2C281.2 1210.5 284.3 1207.7 287.1 1207.7C289.8 1207.7 291.8 1209.2 294.1 1211.2C296.5 1213.1 299.2 1216.5 301.2 1219.4C303.1 1222.4 303.9 1226.9 305.9 1228.8C307.8 1230.8 310.2 1230 312.9 1231.2C315.7 1232.4 319.2 1234.5 322.4 1235.9C325.5 1237.3 328.6 1239.3 331.8 1239.4C334.9 1239.5 338 1236.4 341.2 1236.6C344.3 1236.8 347.1 1238.7 350.6 1240.6C354.1 1242.4 358.4 1245.8 362.4 1247.7C366.3 1249.5 369.8 1251.1 374.1 1251.9C378.4 1252.7 384.7 1252.9 388.2 1252.3C391.8 1251.8 392.2 1250.4 395.3 1248.8C398.4 1247.3 403.5 1245.1 407.1 1242.9C410.6 1240.8 413.7 1238.4 416.5 1235.9C419.2 1233.3 420.4 1230.4 423.5 1227.7C426.7 1224.9 431.8 1222.4 435.3 1219.4C438.8 1216.5 441.6 1212.4 444.7 1210C447.8 1207.6 450.6 1206 454.1 1204.8C457.6 1203.6 462 1203.2 465.9 1202.9C469.8 1202.7 473.7 1202.8 477.6 1203.4C481.6 1204 487.5 1205.8 489.4 1206.5C491.4 1207.2 487.5 1206.9 489.4 1207.7C491.3 1208.4 499.5 1208.8 500.7 1211.2C501.9 1213.5 497.8 1218.4 496.5 1221.8C495.2 1225.1 494.5 1228.6 492.9 1231.2C491.4 1233.7 489.2 1235.3 487.1 1237.1C484.9 1238.8 479.2 1242.3 480 1241.8C480.8 1241.2 491.8 1233.3 491.8 1233.5C491.8 1233.7 483.1 1239.4 480 1242.9C476.9 1246.5 475.3 1250.4 472.9 1254.7C470.6 1259 467.8 1263.7 465.9 1268.8C463.9 1273.9 462.4 1279.8 461.2 1285.3C460 1290.8 459 1295.5 458.8 1301.8C458.6 1308 459.2 1315.9 460 1322.9C460.8 1330 462.2 1336.7 463.5 1344.1C464.9 1351.6 466.9 1360.6 468.2 1367.7C469.6 1374.7 471.8 1381 471.8 1386.5C471.8 1392 470.4 1396.7 468.2 1400.6C466.1 1404.5 462.4 1407.3 458.8 1410C455.3 1412.7 451.4 1414.9 447.1 1417.1C442.7 1419.2 437.3 1421.2 432.9 1422.9C428.6 1424.7 424.7 1426.7 421.2 1427.7C417.6 1428.6 414.9 1428.8 411.8 1428.8C408.6 1428.8 405.5 1427.7 402.4 1427.7C399.2 1427.7 396.1 1427.6 392.9 1428.8C389.8 1430 386.7 1432.7 383.5 1434.7C380.4 1436.7 377.3 1438.4 374.1 1440.6C371 1442.7 366.7 1444.5 364.7 1447.7C362.7 1450.8 362.7 1457.5 362.4 1459.4L225 1462L212.6 1462Z" fill="#ffb8aa"/>
<path d="M502.4 1211.2C502.5 1206.5 505.9 1205.3 508.2 1202.9C510.6 1200.6 513.3 1198.2 516.5 1197.1C519.6 1196 523.3 1196 527.1 1196.3C530.8 1196.7 534.9 1198.1 538.8 1199.4C542.7 1200.7 546.7 1202.2 550.6 1204.1C554.5 1206.1 559.2 1209.2 562.4 1211.2C565.5 1213.1 567.4 1215.9 569.4 1215.9C571.4 1215.9 572.2 1212.6 574.1 1211.2C576.1 1209.8 578.8 1208.6 581.2 1207.7C583.5 1206.7 585.9 1204.9 588.2 1205.3C590.6 1205.7 592.7 1209 595.3 1210C597.8 1211 601.2 1208.6 603.5 1211.2C605.9 1213.7 607.4 1220 609.4 1225.3C611.4 1230.6 613.3 1238.4 615.3 1242.9C617.3 1247.5 619.6 1249.8 621.2 1252.3C622.8 1254.9 623.7 1258.6 624.7 1258.2C625.7 1257.8 626.1 1252 627.1 1250C628 1248 629.2 1246.7 630.6 1246.5C632 1246.3 634.1 1246.3 635.3 1248.8C636.5 1251.4 636.3 1258.2 637.6 1261.8C639 1265.3 643.5 1267.3 643.5 1270C643.5 1272.7 639.2 1274.7 637.6 1278.2C636.1 1281.8 635.5 1288 634.1 1291.2C632.7 1294.3 630.8 1298.4 629.4 1297.1C628 1295.7 626.9 1285.7 625.9 1282.9C624.9 1280.2 624.5 1278.2 623.5 1280.6C622.5 1282.9 621.2 1291.2 620 1297.1C618.8 1302.9 617.8 1310 616.5 1315.9C615.1 1321.8 613.5 1327.3 611.8 1332.3C610 1337.4 608.2 1342.5 605.9 1346.5C603.5 1350.4 600.6 1353.5 597.6 1355.9C594.7 1358.2 591 1361.4 588.2 1360.6C585.5 1359.8 583.5 1355.1 581.2 1351.2C578.8 1347.3 576.1 1342.2 574.1 1337.1C572.2 1332 571.2 1325.3 569.4 1320.6C567.6 1315.9 565.7 1311.5 563.5 1308.8C561.4 1306.2 559 1304.4 556.5 1304.6C553.9 1304.8 551.2 1308.7 548.2 1310C545.3 1311.3 541.8 1312.2 538.8 1312.3C535.9 1312.5 533.1 1313.3 530.6 1311.2C528 1309 525.7 1304.9 523.5 1299.4C521.4 1293.9 519.6 1285.7 517.6 1278.2C515.7 1270.8 513.5 1262.6 511.8 1254.7C510 1246.9 508.6 1238.4 507.1 1231.2C505.5 1223.9 502.2 1215.9 502.4 1211.2Z" fill="#ffb8aa"/>
<path d="M681.2 1231.2C681.4 1227.7 684.7 1222.2 685.9 1217.1C687.1 1212 687.3 1205.1 688.2 1200.6C689.2 1196.1 689.6 1193.1 691.8 1190C693.9 1186.9 698.2 1183.7 701.2 1181.8C704.1 1179.8 706.9 1178.2 709.4 1178.2C712 1178.2 713.7 1179.7 716.5 1181.8C719.2 1183.8 723.1 1190.3 725.9 1190.7C728.6 1191.1 730.8 1187.2 732.9 1184.1C735.1 1181.1 736.3 1174.7 738.8 1172.3C741.4 1170 745.1 1170.1 748.2 1170C751.4 1169.9 754.7 1169.9 757.6 1171.9C760.6 1173.8 763.6 1178.5 765.9 1181.8C768.2 1185 770.6 1186.5 771.3 1191.2C772 1195.9 771 1204.1 769.9 1210C768.8 1215.9 767.1 1221.4 764.7 1226.5C762.3 1231.6 758.4 1237.3 755.3 1240.6C752.2 1243.9 748.4 1244.3 745.9 1246.5C743.3 1248.6 742 1252.7 740 1253.5C738 1254.3 737.1 1252.9 734.1 1251.2C731.2 1249.4 726.3 1245.1 722.4 1242.9C718.4 1240.8 714.1 1239.4 710.6 1238.2C707.1 1237.1 703.9 1235.5 701.2 1235.9C698.4 1236.3 696.9 1240.2 694.1 1240.6C691.4 1241 686.9 1239.8 684.7 1238.2C682.6 1236.7 681 1234.7 681.2 1231.2Z" fill="#ffb8aa"/>
<path d="M850.6 1461.8C847.5 1461 844.9 1456.3 842.4 1452.3C839.8 1448.4 837.4 1442.9 835.3 1438.2C833.1 1433.5 830.7 1429.6 829.4 1424.1C828.2 1418.6 827.8 1412 827.8 1405.3C827.8 1398.6 828.5 1390.4 829.4 1384.1C830.3 1377.8 831.9 1373.5 832.9 1367.7C834 1361.8 835.8 1355.1 835.8 1348.8C835.8 1342.5 834 1336.7 832.9 1330C831.9 1323.3 830.6 1315.9 829.4 1308.8C828.2 1301.8 827.3 1294.7 825.9 1287.7C824.5 1280.6 822.9 1272.7 821.2 1266.5C819.4 1260.2 817.1 1255.9 815.3 1250C813.5 1244.1 811.2 1237.5 810.6 1231.2C810 1224.9 810.4 1217.4 811.8 1212.3C813.1 1207.3 816.5 1204.5 818.8 1200.6C821.2 1196.7 823.5 1193.1 825.9 1188.8C828.2 1184.5 830.6 1179.4 832.9 1174.7C835.3 1170 837.7 1164.6 840 1160.6C842.3 1156.6 844.9 1152.9 846.6 1150.7C848.3 1148.5 848.4 1148.1 850.1 1147.2C851.8 1146.3 852.7 1145.7 856.7 1145.4C860.7 1145.1 869 1145 874.1 1145.4C879.2 1145.8 882.9 1146.7 887.3 1147.7C891.7 1148.6 896.2 1149.8 900.7 1150.9C905.2 1152 910.4 1153.5 914.1 1154.2C917.9 1155 919.5 1155.5 923.3 1155.7C927.1 1155.8 932.9 1155.6 936.7 1155.2C940.5 1154.7 942.5 1153.8 945.9 1153.1C949.2 1152.4 953.1 1151.6 956.7 1150.9C960.3 1150.3 963.3 1149.7 967.3 1149.1C971.3 1148.4 976.2 1147.6 980.7 1146.9C985.2 1146.3 989.7 1145.8 994.1 1145.1C998.5 1144.4 1003 1143.4 1007.3 1142.7C1011.6 1142 1014.6 1141.4 1020 1141.1C1025.4 1140.7 1034.2 1140.6 1039.5 1140.5C1044.8 1140.4 1049.7 1088.4 1051.8 1140.3C1053.8 1192.3 1053.8 1400.3 1051.8 1452.3C1049.7 1504.3 1043.8 1452 1039.5 1452.3C1035.2 1452.7 1031.3 1453.5 1025.9 1454.7C1020.5 1455.9 1014.1 1458.2 1007.1 1459.4C1000 1460.7 991 1461.5 983.5 1462.2C976.1 1463 968.2 1464.2 962.4 1464.1C956.5 1464 952.9 1462.5 948.2 1461.8C943.5 1461 937.6 1459 934.1 1459.4C930.6 1459.8 929 1463.7 927.1 1464.1C925.1 1464.5 924.3 1461.6 922.4 1461.8C920.4 1462 917.2 1464.9 915.3 1465.3C913.3 1465.7 912.6 1465.5 910.6 1464.1C908.6 1462.7 905.9 1460.2 903.5 1457.1C901.2 1453.9 898.8 1448.5 896.5 1445.3C894.1 1442.1 891.8 1438.5 889.4 1437.8C887.1 1437 885.1 1438.5 882.4 1440.6C879.6 1442.6 876.5 1447.3 872.9 1450C869.4 1452.7 864.9 1455.1 861.2 1457.1C857.5 1459 853.7 1462.5 850.6 1461.8Z" fill="#ffb8aa"/>
<path d="M935.3 1192.3C935.9 1191.2 939.2 1190.7 941.2 1190.7C943.1 1190.7 946.9 1191.2 947.1 1192.3C947.3 1193.5 943.9 1196.9 942.4 1197.8C940.8 1198.7 938.8 1198.7 937.6 1197.8C936.5 1196.9 934.7 1193.5 935.3 1192.3Z" fill="#ffdcd4"/>
<polygon points="215.7,1312.2 220.3,1321.7 224.1,1331.1 227.4,1341.4 229.3,1349.9 225.1,1349.4 221.3,1348.9 215.7,1330.1" fill="#ffdcd4"/>
<path d="M229 1352C229 1347.9 228.8 1334.8 228.9 1327.7C229.1 1320.5 228.1 1312.7 230.1 1308.8C232.2 1304.9 238.6 1306.9 241.2 1304.1C243.8 1301.4 244.1 1296.7 245.9 1292.3C247.6 1288 249.8 1282.4 251.8 1278.2C253.7 1274.1 254.5 1270.1 257.6 1267.7C260.8 1265.2 265.3 1264.2 270.6 1263.7C275.9 1263.1 284.9 1262.9 289.4 1264.1C293.9 1265.4 295.5 1267.7 297.6 1271.2C299.8 1274.7 301 1280.2 302.4 1285.3C303.7 1290.4 304.7 1295.9 305.9 1301.8C307.1 1307.6 307.8 1315.5 309.4 1320.6C311 1325.7 312.9 1328.5 315.3 1332.3C317.6 1336.2 320.8 1341.5 323.5 1343.7C326.3 1345.8 329.2 1346.4 331.8 1345.3C334.3 1344.2 336.5 1339 338.8 1337.1C341.2 1335.1 343.1 1333.9 345.9 1333.5C348.6 1333.1 352.2 1333.1 355.3 1334.7C358.4 1336.3 361.6 1340.2 364.7 1342.9C367.8 1345.7 371.4 1347.1 374.1 1351.2C376.9 1355.3 380.1 1361.8 381.2 1367.7C382.3 1373.5 381.7 1381.4 380.7 1386.5C379.7 1391.6 378 1394.7 375.3 1398.2C372.6 1401.8 368.8 1404.9 364.7 1407.7C360.6 1410.4 354.5 1412.4 350.6 1414.7C346.7 1417.1 343.9 1419.2 341.2 1421.8C338.4 1424.3 335.7 1425.7 334.1 1430C332.6 1434.3 332.2 1442.7 331.8 1447.7C331.4 1452.6 331.8 1457.5 331.8 1459.4L232 1462Z" fill="#ff9480"/>
<path d="M534.1 1251.2C533.9 1250.2 537.8 1247.8 540 1247.7C542.2 1247.5 546.9 1249.5 547.1 1250.5C547.3 1251.5 543.3 1253.4 541.2 1253.5C539 1253.6 534.3 1252.2 534.1 1251.2Z" fill="#ff9480"/>
<path d="M587.5 1285.3C588.3 1283.6 591.1 1287.6 592.9 1286.5C594.7 1285.3 597.2 1277.3 598.4 1278.2C599.5 1279.2 600.5 1289.6 600 1292.3C599.5 1295.1 596.7 1294.6 595.3 1294.7C593.9 1294.8 592.9 1292.5 591.8 1292.8C590.6 1293.1 588.9 1297.8 588.2 1296.6C587.5 1295.3 586.7 1287 587.5 1285.3Z" fill="#ff9480"/>
<path d="M1051.8 1142C1049.7 1142 1044.8 1142 1039.5 1142C1034.2 1142 1024.9 1141.5 1020 1141.9C1015.1 1142.3 1013.8 1143.5 1009.9 1144.3C1006 1145.2 1001.1 1146.3 996.7 1147.2C992.3 1148.1 988.2 1148.9 983.3 1149.7C978.4 1150.5 971.2 1149.7 967.3 1151.9C963.4 1154.1 962.2 1159.5 960 1162.9C957.8 1166.4 952.9 1169.2 954.1 1172.3C955.3 1175.5 962.9 1179 967.1 1181.8C971.2 1184.5 975.1 1187.1 978.8 1188.8C982.5 1190.6 986.7 1190.2 989.4 1192.3C992.2 1194.5 993.7 1198.6 995.3 1201.8C996.9 1204.9 998.8 1208.4 998.8 1211.2C998.8 1213.9 997.8 1217.3 995.3 1218.2C992.7 1219.2 987.1 1216.7 983.5 1217.1C980 1217.5 977.3 1219 974.1 1220.6C971 1222.2 967.5 1223.9 964.7 1226.5C962 1229 960.4 1232.4 957.6 1235.9C954.9 1239.4 951 1244.6 948.2 1247.7C945.5 1250.7 943.1 1253.8 941.2 1254.2C939.2 1254.6 938.4 1252.3 936.5 1250C934.5 1247.7 931.8 1244.1 929.4 1240.6C927.1 1237.1 925.1 1232.2 922.4 1228.8C919.6 1225.5 916.1 1223.3 912.9 1220.6C909.8 1217.8 905.5 1215.3 903.5 1212.3C901.6 1209.4 902.2 1206.5 901.2 1202.9C900.1 1199.4 897.6 1194.7 897.2 1191.2C896.8 1187.7 898.2 1184.9 898.8 1181.8C899.5 1178.6 902 1175.5 901.2 1172.3C900.4 1169.2 896.3 1166.3 894.1 1162.9C892 1159.6 891.8 1154.4 888.2 1152.3C884.7 1150.3 877.5 1150.8 872.9 1150.7C868.4 1150.6 864.3 1150.4 861.2 1151.7C858 1152.9 856.5 1155.6 854.1 1158.2C851.8 1160.9 849 1163.7 847.1 1167.7C845.1 1171.6 844.3 1177.1 842.4 1181.8C840.4 1186.5 837.2 1190.8 835.3 1195.9C833.3 1201 831.5 1206.5 830.6 1212.3C829.7 1218.2 829.5 1224.9 829.9 1231.2C830.3 1237.5 831.6 1243.7 832.9 1250C834.2 1256.3 836.1 1262.9 837.6 1268.8C839.2 1274.7 841 1279.8 842.4 1285.3C843.7 1290.8 844.5 1297.1 845.9 1301.8C847.3 1306.5 848.6 1310.5 850.6 1313.5C852.6 1316.6 855.1 1319.1 857.6 1320.1C860.2 1321.1 862.9 1320.3 865.9 1319.4C868.8 1318.5 872.5 1316.3 875.3 1314.7C878 1313.1 879.6 1311.2 882.4 1310C885.1 1308.8 888.6 1308 891.8 1307.7C894.9 1307.3 898 1308 901.2 1307.7C904.3 1307.3 907.1 1306.5 910.6 1305.3C914.1 1304.1 918.4 1301.8 922.4 1300.6C926.3 1299.4 931.2 1297.8 934.1 1298.2C937.1 1298.6 938.2 1299.2 940 1302.9C941.8 1306.7 943.3 1314.5 944.7 1320.6C946.1 1326.7 946.9 1332.7 948.2 1339.4C949.6 1346.1 951.7 1353.1 952.9 1360.6C954.2 1368 955.4 1376.3 955.8 1384.1C956.2 1392 955.8 1401 955.3 1407.7C954.7 1414.3 952.7 1419.4 952.5 1424.1C952.3 1428.8 953.3 1432.5 954.1 1435.9C955 1439.2 955.5 1442.2 957.6 1444.1C959.8 1446.1 963.9 1447.5 967.1 1447.7C970.2 1447.8 973.3 1446.3 976.5 1445.3C979.6 1444.3 982.7 1442.6 985.9 1441.8C989 1440.9 992.2 1440.7 995.3 1440.1C998.4 1439.5 1002.4 1439.3 1004.7 1438.2C1007.1 1437.1 1007.1 1434.9 1009.4 1433.5C1011.8 1432.2 1016.1 1430.8 1018.8 1430C1021.6 1429.2 1024.1 1430.6 1025.9 1428.8C1027.6 1427.1 1028 1422.2 1029.4 1419.4C1030.8 1416.7 1032.4 1413.6 1034.1 1412.3C1035.8 1411.1 1036.6 1412 1039.5 1411.9C1042.5 1411.8 1049.7 1411.9 1051.8 1411.9Z" fill="#ff9480"/>
<path d="M229.3 1347.1C229.4 1346.1 230 1344.1 230.2 1341.4C230.5 1338.7 229.2 1332.5 230.9 1331.1C232.5 1329.6 237 1332.5 240.1 1332.9C243.2 1333.3 247 1334.4 249.5 1333.4C252 1332.5 253.5 1329 255.2 1327.3C256.9 1325.6 257.7 1324 259.9 1323.1C262.1 1322.2 265.7 1322.1 268.4 1321.8C271 1321.6 273.7 1320.9 275.9 1321.5C278.1 1322.1 279.8 1323.8 281.5 1325.4C283.3 1327 284.8 1328.5 286.2 1331.1C287.7 1333.6 288.9 1336.9 290 1340.5C291.1 1344.1 291.9 1348.5 292.8 1352.7C293.8 1356.9 294.7 1361.3 295.6 1365.9C296.6 1370.4 297.5 1375.3 298.5 1380C299.4 1384.7 300.3 1389.4 301.3 1394.1C302.2 1398.8 303.3 1403.5 304.1 1408.2C304.9 1412.9 305.4 1418.1 306 1422.3C306.6 1426.6 307.2 1430.2 307.9 1433.7C308.6 1437.1 309.8 1440.8 310.2 1443.1C310.7 1445.3 310.6 1445.1 310.7 1447C310.8 1448.9 310.9 1453.1 311 1454.3L236 1458Z" fill="#ff7155"/>
<path d="M862.4 1199.4C864.7 1199.1 867.3 1199.2 869.4 1200.6C871.6 1202 873.5 1204.5 875.3 1207.7C877.1 1210.8 878.6 1215.5 880 1219.4C881.4 1223.3 883.1 1226.1 883.5 1231.2C883.9 1236.3 883.7 1245.3 882.4 1250C881 1254.7 877.6 1256.7 875.3 1259.4C872.9 1262.1 870.6 1264.5 868.2 1266C865.9 1267.5 863.3 1269.1 861.2 1268.3C859 1267.6 857.1 1264.8 855.3 1261.8C853.5 1258.7 852 1254.3 850.6 1250C849.2 1245.7 847.7 1240.2 847.1 1235.9C846.4 1231.6 846.2 1228.4 846.6 1224.1C847 1219.8 848 1213.6 849.4 1210C850.9 1206.4 853.1 1204.2 855.3 1202.5C857.4 1200.7 860 1199.7 862.4 1199.4Z" fill="#ff7155"/>
<path d="M1051.8 1340.6C1049.7 1340.6 1043.1 1341.2 1039.5 1340.6C1036 1340 1033.3 1338.8 1030.6 1337.1C1027.9 1335.3 1025.5 1332.7 1023.5 1330C1021.6 1327.3 1020.2 1324.5 1018.8 1320.6C1017.4 1316.7 1016.4 1311.6 1015.3 1306.5C1014.2 1301.4 1012.9 1295.5 1012.2 1290C1011.6 1284.5 1011.3 1279.4 1011.3 1273.5C1011.3 1267.6 1011.8 1261 1012.2 1254.7C1012.7 1248.4 1013.2 1241.4 1014.1 1235.9C1015 1230.4 1016.7 1226.1 1017.6 1221.8C1018.6 1217.4 1020.2 1213.5 1020 1210C1019.8 1206.5 1017.5 1203.7 1016.5 1200.6C1015.5 1197.5 1016.5 1193.9 1014.1 1191.2C1011.8 1188.4 1006.7 1186.1 1002.4 1184.1C998 1182.2 992.9 1181.4 988.2 1179.4C983.6 1177.4 975.2 1175.1 974.6 1172.1C974 1169.2 981 1164.6 984.7 1161.8C988.4 1158.9 992.5 1157.2 996.7 1154.9C1000.9 1152.7 1006 1150.2 1009.9 1148.3C1013.8 1146.5 1015.1 1144.9 1020 1144.1C1024.9 1143.4 1034.2 1143.8 1039.5 1143.8C1044.8 1143.7 1049.7 1143.7 1051.8 1143.7Z" fill="#ff7155"/>
<path d="M230.7 1340.9C232 1342 237.3 1344.5 238.7 1347.1C240.1 1349.6 239.3 1353.3 239.2 1356.5C239.1 1359.6 238.4 1361.5 238.2 1365.9C238.1 1370.3 238.4 1378.3 238.2 1382.8C238.1 1387.3 237.4 1391.1 237.3 1392.7L228 1372L226 1350Z" fill="#ff4e2a"/>
<path d="M242.9 1366.8C243.4 1365.4 244.8 1364.8 245.8 1364.9C246.7 1365.1 248 1365.7 248.6 1367.8C249.2 1369.8 249.1 1373.9 249.5 1377.2C250 1380.5 250.5 1384.6 251.4 1387.5C252.4 1390.4 253.9 1393.6 255.2 1394.6C256.4 1395.5 257.5 1393.2 258.9 1393.2C260.4 1393.2 262.2 1395.1 263.6 1394.6C265.1 1394.1 266.6 1393.3 267.4 1390.3C268.2 1387.4 268.1 1381.1 268.4 1377.2C268.6 1373.3 268 1369 268.8 1366.8C269.6 1364.6 271.6 1364.2 273.1 1364C274.6 1363.8 276.6 1364.3 277.8 1365.9C278.9 1367.4 279.2 1370.3 280.1 1373.4C281.1 1376.5 282.2 1380.6 283.4 1384.7C284.6 1388.8 286.1 1393.2 287.2 1397.9C288.3 1402.6 289.1 1408.1 290 1412.9C290.9 1417.8 291.6 1422.4 292.4 1427.1C293.1 1431.8 294.2 1437.6 294.7 1441.2C295.2 1444.8 295.3 1446.2 295.5 1448.7C295.6 1451.2 299.7 1455 295.8 1456.2C292 1457.5 276.5 1457.5 272.6 1456.2C268.6 1455 273.5 1451.6 272.1 1448.7C270.7 1445.9 266.1 1439.4 264.1 1439.1C262.2 1438.8 261.3 1445.5 260.4 1446.8C259.4 1448.1 258.9 1448.7 258.2 1446.8C257.5 1444.9 256.9 1439.1 256.1 1435.5C255.3 1431.9 254.2 1428.8 253.3 1425.2C252.3 1421.6 251.2 1416.9 250.5 1413.9C249.8 1410.9 249.4 1409.8 249.1 1407.3C248.7 1404.8 248.8 1401.6 248.6 1398.8C248.4 1396 248.2 1393 247.7 1390.3C247.1 1387.7 246.1 1385.6 245.3 1382.8C244.5 1380 243.3 1376.1 242.9 1373.4C242.5 1370.7 242.5 1368.2 242.9 1366.8Z" fill="#ff4e2a"/>
<path d="M245.3 1411.1C246.2 1409.3 248.3 1407.8 249.1 1408.2C249.8 1408.7 249.9 1411.5 250 1413.9C250.1 1416.2 249.8 1419.8 249.5 1422.3C249.3 1424.9 249.3 1426.7 248.6 1428.9C247.9 1431.1 246.2 1435.4 245.3 1435.5C244.4 1435.7 243.6 1432.7 243.4 1429.9C243.2 1427.1 243.6 1421.7 243.9 1418.6C244.2 1415.5 244.4 1412.8 245.3 1411.1Z" fill="#ff4e2a"/>
<path d="M1051.8 1188.8C1049.7 1188.7 1043.1 1188.7 1039.5 1188.3C1036 1188 1034 1187.6 1030.6 1186.5C1027.1 1185.4 1022.4 1183.3 1018.8 1181.8C1015.3 1180.2 1012.4 1178.7 1009.4 1177.1C1006.5 1175.4 1001.7 1174 1001.2 1171.9C1000.6 1169.7 1004.4 1167.4 1006.1 1164.1C1007.8 1160.9 1009 1155.1 1011.3 1152.3C1013.6 1149.6 1016.8 1148.6 1020 1147.7C1023.2 1146.7 1027.3 1146.9 1030.6 1146.7C1033.8 1146.5 1036 1146.3 1039.5 1146.2C1043.1 1146.2 1049.7 1146.2 1051.8 1146.2Z" fill="#ff4e2a"/>
<path d="M1051.8 1181.8C1049.7 1181.7 1043.1 1181.7 1039.5 1181.3C1036 1180.9 1033.6 1180.3 1030.6 1179.4C1027.5 1178.5 1023.7 1177.3 1021.2 1175.9C1018.6 1174.5 1015.9 1173.3 1015.3 1171.2C1014.7 1169 1016.9 1165.7 1017.6 1162.9C1018.4 1160.2 1018.2 1156.7 1020 1154.7C1021.8 1152.7 1025 1151.7 1028.2 1150.7C1031.5 1149.7 1035.6 1149.2 1039.5 1148.8C1043.5 1148.4 1049.7 1148.4 1051.8 1148.3Z" fill="#ff2a00"/>
<path d="M216 1179.7C217.2 1179.3 220.6 1178.4 223.3 1177.7C226.1 1176.9 229.6 1175.6 232.7 1175C235.8 1174.4 238.2 1174.3 242 1173.9C245.8 1173.6 251.8 1173 255.3 1173C258.9 1173 259.3 1173.6 263.3 1173.7C267.3 1173.7 275.8 1173.7 279.3 1173.4C282.9 1173.1 282.4 1173 284.7 1171.7C286.9 1170.4 289.8 1167.9 292.7 1165.7C295.6 1163.4 299.2 1160.6 302 1158.3C304.8 1156.1 306.2 1153.2 309.3 1152.1C312.4 1151 317.1 1151.8 320.7 1151.8C324.2 1151.8 327.8 1151.6 330.7 1152.1C333.6 1152.5 335 1153.3 338 1154.3C341 1155.4 345.6 1156.9 348.7 1158.3C351.8 1159.8 354 1161.6 356.7 1163C359.3 1164.4 361.8 1165.8 364.7 1167C367.6 1168.2 372.2 1169.6 374 1170.3C375.8 1171.1 374 1170.6 375.3 1171.7C376.7 1172.8 379.9 1175.3 382 1177C384.1 1178.7 386.3 1180.9 388 1181.7C389.7 1182.4 390.6 1182.1 392 1181.4C393.4 1180.7 395.1 1179 396.7 1177.7C398.2 1176.4 398.9 1176.1 401.3 1173.7C403.8 1171.3 408.1 1165.8 411.3 1163.3C414.6 1160.8 417.1 1159.9 420.7 1158.7C424.2 1157.6 428.7 1157.4 432.7 1156.3C436.7 1155.3 440.9 1153.6 444.7 1152.3C448.4 1151.1 451.8 1150.2 455.3 1149C458.9 1147.8 462.9 1146.2 466 1145.4C469.1 1144.6 470 1144.3 474 1144.1C478 1143.8 486 1143.8 490 1144.1C494 1144.3 494.7 1145 498 1145.7C501.3 1146.4 506.2 1147.5 510 1148.3C513.8 1149.2 517.3 1149.6 520.7 1150.7C524 1151.8 527.1 1153.8 530 1155C532.9 1156.2 534.7 1156.8 538 1157.7C541.3 1158.5 546.4 1159.1 550 1160.1C553.6 1161 556.7 1162.3 559.3 1163.3C562 1164.2 563.6 1165.4 566 1165.7C568.4 1166 571.1 1165 574 1165C576.9 1165 581.1 1165.6 583.3 1165.4C585.6 1165.2 584 1164.3 587.3 1164.1C590.7 1163.8 599.6 1163.5 603.3 1164.1C607.1 1164.7 607.8 1166.4 610 1167.7C612.2 1168.9 614.4 1170.4 616.7 1171.7C618.9 1172.9 621.8 1174 623.3 1175C624.9 1176 625 1177.3 626 1177.7C627 1178 628 1177 629.3 1177C630.7 1177 632.8 1177.1 634 1177.7C635.2 1178.2 635.9 1179.4 636.7 1180.3C637.4 1181.2 638 1183.2 638.7 1183C639.3 1182.8 639.7 1180.4 640.7 1179C641.7 1177.6 643.1 1175.6 644.7 1174.3C646.2 1173.1 648 1172.7 650 1171.7C652 1170.6 654.4 1168.7 656.7 1168.1C658.9 1167.4 661.1 1168.3 663.3 1167.7C665.6 1167 667.8 1165.4 670 1164.3C672.2 1163.2 674.4 1162.2 676.7 1161C678.9 1159.8 681.1 1158 683.3 1157C685.6 1156 687.2 1155.9 690 1154.7C692.8 1153.6 697.1 1151.3 700 1150.2C702.9 1149.1 704.2 1148.7 707.5 1148.3C710.9 1147.9 715.5 1148.3 720.1 1147.7C724.7 1147.1 730.1 1145.3 735.1 1144.6C740.1 1143.8 746.8 1143.5 750.2 1143.3C753.5 1143.1 753.1 1142.8 755.2 1143.3C757.3 1143.8 760.2 1145.1 762.7 1146.4C765.2 1147.8 767.3 1150 770.3 1151.5C773.2 1152.9 777 1153.9 780.3 1155.2C783.6 1156.6 787.4 1158.3 790.3 1159.6C793.3 1161 796 1162.5 797.9 1163.4C799.8 1164.2 800 1164.6 801.6 1164.6C803.3 1164.6 806 1164.1 807.9 1163.4C809.8 1162.6 810.8 1161.6 812.9 1160.2C815 1158.9 817.5 1157.3 820.5 1155.2C823.4 1153.1 827.6 1150 830.5 1147.7C833.4 1145.4 835.1 1143.4 838 1141.4C840.9 1139.4 844.3 1136.7 848.1 1135.8C851.8 1134.8 857 1135.4 860.7 1135.7C864.3 1136 866.2 1136.7 870 1137.7C873.8 1138.6 878.9 1140.3 883.3 1141.4C887.8 1142.5 892.2 1143.5 896.7 1144.3C901.1 1145.2 905.6 1145.9 910 1146.3C914.4 1146.8 917.8 1146.9 923.3 1147C928.9 1147.1 937.1 1147.1 943.3 1146.7C949.6 1146.4 955.8 1145.6 960.7 1145C965.6 1144.4 968.4 1143.7 972.7 1143.3C976.9 1142.8 981.6 1142.6 986 1142.3C990.4 1142 995.3 1141.8 999.3 1141.4C1003.3 1141 1006.6 1140.2 1010 1139.7C1013.4 1139.2 1014.9 1138.6 1020 1138.3C1025.1 1138.1 1037.1 1138.2 1040.5 1138.2L1041.9 1138.2L1041.9 1092L213.6 1092L213.6 1179.7Z" fill="#d4dcfe"/>
<path d="M216 1150.7C219.4 1150.6 227 1150.2 236.7 1149.9C246.3 1149.7 266 1149.7 274 1149.4C282 1149.1 281.1 1148.5 284.7 1148.1C288.2 1147.7 291.3 1147.4 295.3 1147C299.3 1146.6 304 1146.2 308.7 1145.9C313.3 1145.7 318.9 1145.4 323.3 1145.7C327.8 1145.9 330.9 1146.8 335.3 1147.3C339.8 1147.7 345.8 1148 350 1148.3C354.2 1148.7 356.9 1149 360.7 1149.4C364.4 1149.8 369.8 1150.5 372.7 1150.7C375.6 1151 375.1 1151 378 1151C380.9 1151 385.8 1151.2 390 1150.7C394.2 1150.3 398.9 1149 403.3 1148.3C407.8 1147.7 412.7 1147.3 416.7 1146.7C420.7 1146.2 423.6 1145.7 427.3 1145C431.1 1144.3 435.6 1143.6 439.3 1142.3C443.1 1141.1 446.7 1139.1 450 1137.7C453.3 1136.2 456.7 1134.6 459.3 1133.7C462 1132.7 462.4 1132.3 466 1132.1C469.6 1131.8 476.7 1131.6 480.7 1132.1C484.7 1132.5 486.2 1133.8 490 1134.7C493.8 1135.7 498.9 1136.6 503.3 1137.7C507.8 1138.7 512.2 1140.1 516.7 1141C521.1 1141.9 526.4 1142.7 530 1143.3C533.6 1143.9 534.7 1144.2 538 1144.6C541.3 1145 546.4 1145.3 550 1145.7C553.6 1146 555.1 1146.6 559.3 1146.7C563.6 1146.8 571.3 1146.7 575.3 1146.3C579.3 1145.9 581.1 1145.2 583.3 1144.3C585.6 1143.4 586.7 1142.2 588.7 1141C590.7 1139.8 593.1 1138 595.3 1137C597.6 1136 599.6 1134.7 602 1134.7C604.4 1134.7 607.3 1136 610 1137C612.7 1138 615.6 1139.5 618 1140.6C620.4 1141.7 621.2 1143.2 624.7 1143.7C628.1 1144.2 635.6 1144.5 638.7 1143.7C641.8 1142.8 641.4 1140 643.3 1138.7C645.2 1137.5 647.8 1137.3 650 1136.3C652.2 1135.4 654.4 1133.7 656.7 1133C658.9 1132.3 660 1132.2 663.3 1132.1C666.7 1131.9 673.1 1131.7 676.7 1132.1C680.2 1132.4 680.8 1133.9 684.7 1134.3C688.6 1134.7 695.4 1134.7 700 1134.5C704.6 1134.3 705.6 1133.7 712.5 1133.3C719.5 1132.9 734.5 1132.2 741.4 1132C748.3 1131.8 750.4 1131.7 754 1132C757.5 1132.3 760 1132.9 762.7 1133.9C765.5 1134.9 766.5 1136.7 770.3 1138.3C774 1139.9 780.3 1141.9 785.3 1143.3C790.3 1144.7 796.4 1146.2 800.4 1146.7C804.4 1147.2 806 1146.8 809.2 1146.2C812.3 1145.6 815.4 1144.9 819.2 1143.3C823 1141.7 828.6 1138.2 831.7 1136.4C834.9 1134.6 834.9 1133.7 838 1132.6C841.2 1131.6 847.2 1130.6 850.6 1130.1C853.9 1129.7 855.4 1129.6 858 1129.9C860.6 1130.3 862.9 1131.3 866 1132.3C869.1 1133.4 872.7 1135 876.7 1136.3C880.7 1137.6 885.6 1139.1 890 1140.1C894.4 1141 898.9 1141.4 903.3 1141.9C907.8 1142.5 912.2 1142.9 916.7 1143.3C921.1 1143.7 924.7 1144.2 930 1144.3C935.3 1144.5 943.1 1144.4 948.7 1144.1C954.2 1143.7 957.6 1142.9 963.3 1142.3C969.1 1141.8 977.8 1141 983.3 1140.6C988.9 1140.2 992.2 1140.4 996.7 1140.1C1001.1 1139.7 1006.1 1138.8 1010 1138.3C1013.9 1137.9 1014.9 1137.5 1020 1137.4C1025.1 1137.3 1037.1 1137.6 1040.5 1137.6L1041.9 1137.6L1041.9 1092L213.6 1092L213.6 1150.7Z" fill="#aabafd"/>
<path d="M216 1135.7C217.2 1135.8 216.6 1136.5 223.3 1136.6C230.1 1136.7 248.9 1136.5 256.7 1136.1C264.4 1135.6 265.6 1134.4 270 1133.9C274.4 1133.4 278.9 1132.9 283.3 1133C287.8 1133.1 291.6 1133.6 296.7 1134.3C301.8 1135.1 308.4 1136.6 314 1137.4C319.6 1138.2 324.7 1138.5 330 1139C335.3 1139.5 340.4 1139.9 346 1140.3C351.6 1140.8 357.1 1141.6 363.3 1141.7C369.6 1141.8 376.7 1141.6 383.3 1141C390 1140.4 397.8 1139.3 403.3 1138.3C408.9 1137.3 412.2 1136.2 416.7 1135C421.1 1133.8 425.6 1132.2 430 1131C434.4 1129.8 438.9 1128.6 443.3 1127.7C447.8 1126.7 451.6 1125.8 456.7 1125.4C461.8 1125 468 1125.1 474 1125C480 1124.9 487.8 1124.8 492.7 1125C497.6 1125.2 499.3 1125.9 503.3 1126.3C507.3 1126.8 512.2 1127.2 516.7 1127.7C521.1 1128.1 526.4 1128.7 530 1129C533.6 1129.3 535.3 1129.6 538 1129.7C540.7 1129.7 541.8 1130 546 1129.4C550.2 1128.8 557.1 1127.5 563.3 1126.3C569.6 1125.2 578.4 1123.2 583.3 1122.3C588.2 1121.4 586.2 1121.2 592.7 1121C599.1 1120.8 614.7 1121.3 622 1121.4C629.3 1121.5 630.9 1121.7 636.7 1121.7C642.4 1121.6 649.8 1121.1 656.7 1121C663.6 1120.9 672.9 1120.9 678 1121C683.1 1121.1 683.7 1121.5 687.3 1121.7C691 1121.8 695.8 1121.8 700 1122C704.2 1122.1 708.4 1122.3 712.5 1122.6C716.7 1122.9 718.8 1123.3 725.1 1123.6C731.4 1123.9 743.9 1124.1 750.2 1124.5C756.5 1124.8 758.6 1125.2 762.7 1125.7C766.9 1126.3 770.3 1127.2 775.3 1127.9C780.3 1128.6 787.6 1129.5 792.9 1129.9C798.1 1130.2 802.3 1130.1 806.6 1129.9C811 1129.7 815 1129.3 819.2 1128.6C823.4 1127.9 827.6 1126.5 831.7 1125.7C835.9 1125 839.7 1124.4 844.3 1124.1C848.9 1123.8 855 1123.7 859.3 1124.1C863.6 1124.4 866 1125.1 870 1126.3C874 1127.6 878.4 1130.1 883.3 1131.7C888.2 1133.2 893.8 1134.6 899.3 1135.7C904.9 1136.8 911.6 1137.6 916.7 1138.3C921.8 1139.1 924.4 1139.8 930 1140.1C935.6 1140.4 944 1140.3 950 1140.1C956 1139.8 960.4 1139.1 966 1138.7C971.6 1138.3 977.8 1137.9 983.3 1137.7C988.9 1137.4 993.2 1137.7 999.3 1137.4C1005.4 1137.1 1013.1 1136 1020 1135.7C1026.9 1135.3 1037.1 1135.4 1040.5 1135.3L1041.9 1135.3L1041.9 1092L213.6 1092L213.6 1135.7Z" fill="#8098fc"/>
<path d="M216 1117.9C220.1 1118 234.3 1118.3 240.7 1118.3C247 1118.3 248 1118 254 1117.9C260 1117.9 269.3 1117.9 276.7 1117.9C284 1118 291.3 1117.9 298 1118.3C304.7 1118.7 311.3 1119.7 316.7 1120.3C322 1121 324.9 1121.7 330 1122.3C335.1 1123 340.7 1123.8 347.3 1124.1C354 1124.4 364 1124.4 370 1124.1C376 1123.8 377.8 1123.1 383.3 1122.3C388.9 1121.6 396.7 1120.6 403.3 1119.7C410 1118.8 415.6 1117.8 423.3 1117C431.1 1116.2 441.6 1115.5 450 1115C458.4 1114.5 467.3 1114.3 474 1114.1C480.7 1113.8 485.1 1113.8 490 1113.4C494.9 1113 498.9 1112.3 503.3 1111.7C507.8 1111 512.2 1110.3 516.7 1109.7C521.1 1109 525.6 1108.3 530 1107.7C534.4 1107 538 1106.4 543.3 1105.7C548.7 1104.9 555.3 1104 562 1103.3C568.7 1102.5 573.1 1101.4 583.3 1101C593.6 1100.6 612.2 1100.8 623.3 1101C634.4 1101.2 641.1 1102 650 1102.3C658.9 1102.6 668.3 1102.6 676.7 1102.7C685 1102.9 694 1102.8 700 1103.2C706 1103.5 708.4 1104.2 712.5 1105C716.7 1105.9 720.9 1107 725.1 1108.2C729.3 1109.3 732.2 1110.9 737.6 1111.9C743.1 1113 751.9 1113.8 757.7 1114.5C763.6 1115.1 766.7 1115.3 772.8 1115.7C778.8 1116.1 785.7 1116.5 794.1 1116.6C802.5 1116.7 815.6 1116.5 823 1116.3C830.3 1116.2 830.8 1115.7 838 1115.7C845.2 1115.7 858.7 1115.8 866 1116.3C873.3 1116.8 876.7 1117.8 882 1118.7C887.3 1119.6 892.7 1120.6 898 1121.7C903.3 1122.7 910 1123.9 914 1125C918 1126.1 919.3 1127.1 922 1128.3C924.7 1129.6 926 1131.4 930 1132.3C934 1133.3 937.1 1133.7 946 1133.9C954.9 1134.2 971 1134.1 983.3 1133.9C995.7 1133.8 1010.5 1133.2 1020 1133C1029.5 1132.8 1037.1 1132.9 1040.5 1132.9L1041.9 1132.9L1041.9 1092L213.6 1092L213.6 1117.9Z" fill="#5575fc"/>
<polygon points="215.6,1329.5 221.7,1348.8 227.2,1348.8 240.2,1405.7 240.5,1427.7 244.4,1446.8 382.5,1446.8 386.1,1466.5 215.6,1466.5" fill="#fff"/>
<polygon points="218,1333 221.2,1341 225,1348.5 222.3,1348.5 219.2,1341" fill="#aabafd"/>
</g>
<rect x="216" y="154" width="824" height="372" fill="none" stroke="#000" stroke-width="2"/>
<g stroke="#000" stroke-width="2"><line x1="216" y1="526" x2="216" y2="532.9"/><line x1="353" y1="526" x2="353" y2="532.9"/><line x1="490" y1="526" x2="490" y2="532.9"/><line x1="628" y1="526" x2="628" y2="532.9"/><line x1="765" y1="526" x2="765" y2="532.9"/><line x1="903" y1="526" x2="903" y2="532.9"/><line x1="1040" y1="526" x2="1040" y2="532.9"/><line x1="209.1" y1="154" x2="216" y2="154"/><line x1="209.1" y1="173" x2="216" y2="173"/><line x1="209.1" y1="213" x2="216" y2="213"/><line x1="209.1" y1="252" x2="216" y2="252"/><line x1="209.1" y1="291" x2="216" y2="291"/><line x1="209.1" y1="330" x2="216" y2="330"/><line x1="209.1" y1="369" x2="216" y2="369"/><line x1="209.1" y1="409" x2="216" y2="409"/><line x1="209.1" y1="448" x2="216" y2="448"/><line x1="209.1" y1="487" x2="216" y2="487"/><line x1="209.1" y1="526" x2="216" y2="526"/></g>
<g font-size="16.3"><text x="215.6" y="553.1" text-anchor="middle">−90</text><text x="353" y="553.1" text-anchor="middle">−60</text><text x="490.4" y="553.1" text-anchor="middle">−30</text><text x="627.8" y="553.1" text-anchor="middle">0</text><text x="765.1" y="553.1" text-anchor="middle">30</text><text x="902.5" y="553.1" text-anchor="middle">60</text><text x="1039.9" y="553.1" text-anchor="middle">90</text><text x="200.2" y="160" text-anchor="end">50</text><text x="200.2" y="179.6" text-anchor="end">100</text><text x="200.2" y="218.8" text-anchor="end">200</text><text x="200.2" y="258" text-anchor="end">300</text><text x="200.2" y="297.3" text-anchor="end">400</text><text x="200.2" y="336.5" text-anchor="end">500</text><text x="200.2" y="375.7" text-anchor="end">600</text><text x="200.2" y="414.9" text-anchor="end">700</text><text x="200.2" y="454.1" text-anchor="end">800</text><text x="200.2" y="493.3" text-anchor="end">900</text><text x="200.2" y="532.6" text-anchor="end">1000</text></g>
<text transform="translate(144.5 340.8) rotate(-90)" font-size="20.83" text-anchor="middle">pressure (mb)</text>
<text x="216.6" y="141.2" font-size="19.79">ls4p-custom8_GWDxTOFD-mem1</text>
<text x="1039.9" y="141.2" font-size="19.79" text-anchor="end">g/kg</text>
<g font-size="19.45"><text x="1062.4" y="134.5">Max</text><text x="1187.9" y="134.5" text-anchor="end">18.69</text><text x="1062.4" y="156.6">Mean</text><text x="1187.9" y="156.6" text-anchor="end">2.41</text><text x="1062.4" y="178.7">Min</text><text x="1187.9" y="178.7" text-anchor="end">0.00</text></g>
<polygon points="1061.6,236.2 1061.6,209 1082.4,195.6 1103.2,209 1103.2,236.2" fill="#ff2a00"/><rect x="1061.6" y="235.6" width="41.6" height="27.5" fill="#ff6900"/><rect x="1061.6" y="262.5" width="41.6" height="27.5" fill="#ff9b11"/><rect x="1061.6" y="289.4" width="41.6" height="27.5" fill="#fdc225"/><rect x="1061.6" y="316.3" width="41.6" height="27.5" fill="#d4c823"/><rect x="1061.6" y="343.1" width="41.6" height="27.5" fill="#94b919"/><rect x="1061.6" y="370" width="41.6" height="27.5" fill="#4ba812"/><rect x="1061.6" y="396.9" width="41.6" height="27.5" fill="#3c8c64"/><rect x="1061.6" y="423.8" width="41.6" height="27.5" fill="#0069a5"/><polygon points="1061.6,450.7 1061.6,477.8 1082.4,491.3 1103.2,477.8 1103.2,450.7" fill="#0030fa"/><polygon points="1061.6,209 1082.4,195.6 1103.2,209 1103.2,477.8 1082.4,491.3 1061.6,477.8" fill="none" stroke="#000" stroke-width="1.67" stroke-linejoin="miter"/><path d="M1103.2 209h4.2M1103.2 477.8h4.2" stroke="#000" stroke-width="1.25" fill="none"/><g font-size="18.4" text-anchor="end"><text x="1155.5" y="243">15.0</text><text x="1155.5" y="269.9">12.5</text><text x="1155.5" y="296.8">10.0</text><text x="1155.5" y="323.7">7.5</text><text x="1155.5" y="350.5">5.0</text><text x="1155.5" y="377.4">2.5</text><text x="1155.5" y="404.3">1.0</text><text x="1155.5" y="431.2">0.5</text><text x="1155.5" y="458.1">0.2</text></g>
<rect x="216" y="624" width="824" height="372" fill="none" stroke="#000" stroke-width="2"/>
<g stroke="#000" stroke-width="2"><line x1="216" y1="996" x2="216" y2="1002.9"/><line x1="353" y1="996" x2="353" y2="1002.9"/><line x1="490" y1="996" x2="490" y2="1002.9"/><line x1="628" y1="996" x2="628" y2="1002.9"/><line x1="765" y1="996" x2="765" y2="1002.9"/><line x1="903" y1="996" x2="903" y2="1002.9"/><line x1="1040" y1="996" x2="1040" y2="1002.9"/><line x1="209.1" y1="624" x2="216" y2="624"/><line x1="209.1" y1="644" x2="216" y2="644"/><line x1="209.1" y1="683" x2="216" y2="683"/><line x1="209.1" y1="722" x2="216" y2="722"/><line x1="209.1" y1="761" x2="216" y2="761"/><line x1="209.1" y1="800" x2="216" y2="800"/><line x1="209.1" y1="840" x2="216" y2="840"/><line x1="209.1" y1="879" x2="216" y2="879"/><line x1="209.1" y1="918" x2="216" y2="918"/><line x1="209.1" y1="957" x2="216" y2="957"/><line x1="209.1" y1="996" x2="216" y2="996"/></g>
<g font-size="16.3"><text x="215.6" y="1023.1" text-anchor="middle">−90</text><text x="353" y="1023.1" text-anchor="middle">−60</text><text x="490.4" y="1023.1" text-anchor="middle">−30</text><text x="627.8" y="1023.1" text-anchor="middle">0</text><text x="765.1" y="1023.1" text-anchor="middle">30</text><text x="902.5" y="1023.1" text-anchor="middle">60</text><text x="1039.9" y="1023.1" text-anchor="middle">90</text><text x="200.2" y="630.1" text-anchor="end">50</text><text x="200.2" y="649.7" text-anchor="end">100</text><text x="200.2" y="688.9" text-anchor="end">200</text><text x="200.2" y="728.1" text-anchor="end">300</text><text x="200.2" y="767.3" text-anchor="end">400</text><text x="200.2" y="806.5" text-anchor="end">500</text><text x="200.2" y="845.8" text-anchor="end">600</text><text x="200.2" y="885" text-anchor="end">700</text><text x="200.2" y="924.2" text-anchor="end">800</text><text x="200.2" y="963.4" text-anchor="end">900</text><text x="200.2" y="1002.6" text-anchor="end">1000</text></g>
<text transform="translate(144.5 810.9) rotate(-90)" font-size="20.83" text-anchor="middle">pressure (mb)</text>
<text x="216.6" y="611.3" font-size="19.79">ERA5 Reanalysis (1979-2019)</text>
<text x="1039.9" y="611.3" font-size="19.79" text-anchor="end">g/kg</text>
<g font-size="19.45"><text x="1062.4" y="604.5">Max</text><text x="1187.9" y="604.5" text-anchor="end">16.99</text><text x="1062.4" y="626.6">Mean</text><text x="1187.9" y="626.6" text-anchor="end">2.14</text><text x="1062.4" y="648.7">Min</text><text x="1187.9" y="648.7" text-anchor="end">0.00</text></g>
<polygon points="1061.6,706.3 1061.6,679.1 1082.4,665.6 1103.2,679.1 1103.2,706.3" fill="#ff2a00"/><rect x="1061.6" y="705.7" width="41.6" height="27.5" fill="#ff6900"/><rect x="1061.6" y="732.5" width="41.6" height="27.5" fill="#ff9b11"/><rect x="1061.6" y="759.4" width="41.6" height="27.5" fill="#fdc225"/><rect x="1061.6" y="786.3" width="41.6" height="27.5" fill="#d4c823"/><rect x="1061.6" y="813.2" width="41.6" height="27.5" fill="#94b919"/><rect x="1061.6" y="840.1" width="41.6" height="27.5" fill="#4ba812"/><rect x="1061.6" y="866.9" width="41.6" height="27.5" fill="#3c8c64"/><rect x="1061.6" y="893.8" width="41.6" height="27.5" fill="#0069a5"/><polygon points="1061.6,920.7 1061.6,947.9 1082.4,961.3 1103.2,947.9 1103.2,920.7" fill="#0030fa"/><polygon points="1061.6,679.1 1082.4,665.6 1103.2,679.1 1103.2,947.9 1082.4,961.3 1061.6,947.9" fill="none" stroke="#000" stroke-width="1.67" stroke-linejoin="miter"/><path d="M1103.2 679.1h4.2M1103.2 947.9h4.2" stroke="#000" stroke-width="1.25" fill="none"/><g font-size="18.4" text-anchor="end"><text x="1155.5" y="713.1">15.0</text><text x="1155.5" y="739.9">12.5</text><text x="1155.5" y="766.8">10.0</text><text x="1155.5" y="793.7">7.5</text><text x="1155.5" y="820.6">5.0</text><text x="1155.5" y="847.5">2.5</text><text x="1155.5" y="874.3">1.0</text><text x="1155.5" y="901.2">0.5</text><text x="1155.5" y="928.1">0.2</text></g>
<rect x="216" y="1094" width="824" height="373" fill="none" stroke="#000" stroke-width="2"/>
<g stroke="#000" stroke-width="2"><line x1="216" y1="1467" x2="216" y2="1473.9"/><line x1="353" y1="1467" x2="353" y2="1473.9"/><line x1="490" y1="1467" x2="490" y2="1473.9"/><line x1="628" y1="1467" x2="628" y2="1473.9"/><line x1="765" y1="1467" x2="765" y2="1473.9"/><line x1="903" y1="1467" x2="903" y2="1473.9"/><line x1="1040" y1="1467" x2="1040" y2="1473.9"/><line x1="209.1" y1="1094" x2="216" y2="1094"/><line x1="209.1" y1="1114" x2="216" y2="1114"/><line x1="209.1" y1="1153" x2="216" y2="1153"/><line x1="209.1" y1="1192" x2="216" y2="1192"/><line x1="209.1" y1="1231" x2="216" y2="1231"/><line x1="209.1" y1="1270" x2="216" y2="1270"/><line x1="209.1" y1="1310" x2="216" y2="1310"/><line x1="209.1" y1="1349" x2="216" y2="1349"/><line x1="209.1" y1="1388" x2="216" y2="1388"/><line x1="209.1" y1="1427" x2="216" y2="1427"/><line x1="209.1" y1="1467" x2="216" y2="1467"/></g>
<g font-size="16.3"><text x="215.6" y="1493.2" text-anchor="middle">−90</text><text x="353" y="1493.2" text-anchor="middle">−60</text><text x="490.4" y="1493.2" text-anchor="middle">−30</text><text x="627.8" y="1493.2" text-anchor="middle">0</text><text x="765.1" y="1493.2" text-anchor="middle">30</text><text x="902.5" y="1493.2" text-anchor="middle">60</text><text x="1039.9" y="1493.2" text-anchor="middle">90</text><text x="200.2" y="1100.2" text-anchor="end">50</text><text x="200.2" y="1119.8" text-anchor="end">100</text><text x="200.2" y="1159" text-anchor="end">200</text><text x="200.2" y="1198.2" text-anchor="end">300</text><text x="200.2" y="1237.4" text-anchor="end">400</text><text x="200.2" y="1276.6" text-anchor="end">500</text><text x="200.2" y="1315.8" text-anchor="end">600</text><text x="200.2" y="1355.1" text-anchor="end">700</text><text x="200.2" y="1394.3" text-anchor="end">800</text><text x="200.2" y="1433.5" text-anchor="end">900</text><text x="200.2" y="1472.7" text-anchor="end">1000</text></g>
<text transform="translate(144.5 1280.9) rotate(-90)" font-size="20.83" text-anchor="middle">pressure (mb)</text>
<text x="627.8" y="1081" font-size="23.96" text-anchor="middle">(Model - Obs.)/Obs. * 100</text>
<text x="1039.9" y="1081.4" font-size="19.79" text-anchor="end">%</text>
<g font-size="19.45"><text x="1062.4" y="1074.6">Max</text><text x="1187.9" y="1074.6" text-anchor="end">130.14</text><text x="1062.4" y="1096.7">Mean</text><text x="1187.9" y="1096.7" text-anchor="end">8.26</text><text x="1062.4" y="1118.8">Min</text><text x="1187.9" y="1118.8" text-anchor="end">-65.83</text><text x="1062.4" y="1461.7">RMSE</text><text x="1187.9" y="1461.7" text-anchor="end">0.36</text><text x="1062.4" y="1483.8">CORR</text><text x="1187.9" y="1483.8" text-anchor="end">1.00</text></g>
<polygon points="1061.6,1170.2 1061.6,1149.2 1082.4,1135.7 1103.2,1149.2 1103.2,1170.2" fill="#ff2a00"/><rect x="1061.6" y="1169.6" width="41.6" height="21.3" fill="#ff4e2a"/><rect x="1061.6" y="1190.2" width="41.6" height="21.3" fill="#ff7155"/><rect x="1061.6" y="1210.9" width="41.6" height="21.3" fill="#ff9480"/><rect x="1061.6" y="1231.6" width="41.6" height="21.3" fill="#ffb8aa"/><rect x="1061.6" y="1252.3" width="41.6" height="21.3" fill="#ffdcd4"/><rect x="1061.6" y="1272.9" width="41.6" height="21.3" fill="#ffffff"/><rect x="1061.6" y="1293.6" width="41.6" height="21.3" fill="#d4dcfe"/><rect x="1061.6" y="1314.3" width="41.6" height="21.3" fill="#aabafd"/><rect x="1061.6" y="1335" width="41.6" height="21.3" fill="#8098fc"/><rect x="1061.6" y="1355.7" width="41.6" height="21.3" fill="#5575fc"/><rect x="1061.6" y="1376.3" width="41.6" height="21.3" fill="#2a52fb"/><polygon points="1061.6,1397 1061.6,1418 1082.4,1431.4 1103.2,1418 1103.2,1397" fill="#0030fa"/><polygon points="1061.6,1149.2 1082.4,1135.7 1103.2,1149.2 1103.2,1418 1082.4,1431.4 1061.6,1418" fill="none" stroke="#000" stroke-width="1.67" stroke-linejoin="miter"/><path d="M1103.2 1149.2h4.2M1103.2 1418h4.2" stroke="#000" stroke-width="1.25" fill="none"/><g font-size="18.4" text-anchor="end"><text x="1165.4" y="1177">100.0</text><text x="1165.4" y="1197.6">75.0</text><text x="1165.4" y="1218.3">50.0</text><text x="1165.4" y="1239">30.0</text><text x="1165.4" y="1259.7">15.0</text><text x="1165.4" y="1280.3">5.0</text><text x="1165.4" y="1301">-5.0</text><text x="1165.4" y="1321.7">-15.0</text><text x="1165.4" y="1342.4">-30.0</text><text x="1165.4" y="1363.1">-50.0</text><text x="1165.4" y="1383.7">-75.0</text><text x="1165.4" y="1404.4">-100.0</text></g>
</svg>
</body></html>
